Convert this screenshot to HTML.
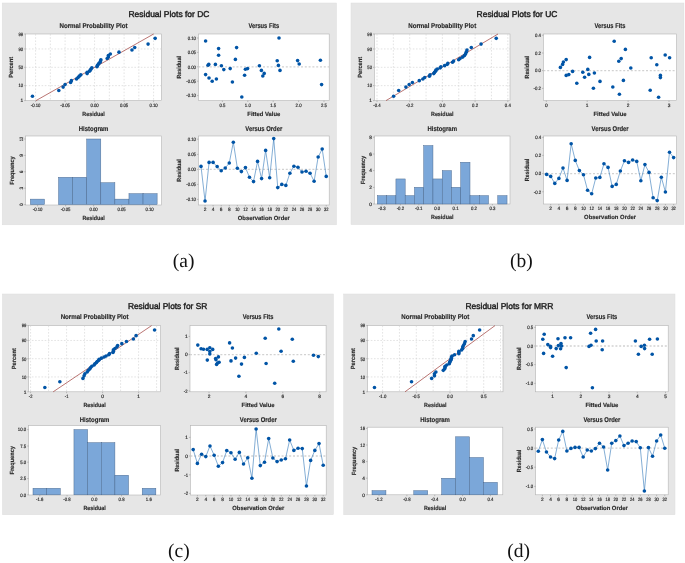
<!DOCTYPE html>
<html><head><meta charset="utf-8"><title>Residual Plots</title>
<style>html,body{margin:0;padding:0;background:#fff}svg{display:block}</style></head>
<body><svg width="685" height="563" viewBox="0 0 685 563" text-rendering="geometricPrecision">
<rect width="685" height="563" fill="#fff"/>
<rect x="2.2" y="3" width="334.3" height="221.8" fill="#e6e6e6" stroke="#dddddd" stroke-width="0.5"/>
<text x="169" y="17.1" font-family='"Liberation Sans", sans-serif' font-size="8.5" font-weight="normal" text-anchor="middle" fill="#222" stroke="#222" stroke-width="0.42" textLength="81" lengthAdjust="spacingAndGlyphs">Residual Plots for DC</text>
<rect x="25.6" y="34" width="135.8" height="66.6" fill="#fff" stroke="#b4b4b4" stroke-width="0.6"/>
<line x1="35.6" y1="34" x2="35.6" y2="100.6" stroke="#d0d0d0" stroke-width="0.6" stroke-dasharray="1.6 1.6"/>
<line x1="50.35" y1="34" x2="50.35" y2="100.6" stroke="#d0d0d0" stroke-width="0.6" stroke-dasharray="1.6 1.6"/>
<line x1="65.1" y1="34" x2="65.1" y2="100.6" stroke="#d0d0d0" stroke-width="0.6" stroke-dasharray="1.6 1.6"/>
<line x1="79.85" y1="34" x2="79.85" y2="100.6" stroke="#d0d0d0" stroke-width="0.6" stroke-dasharray="1.6 1.6"/>
<line x1="94.6" y1="34" x2="94.6" y2="100.6" stroke="#d0d0d0" stroke-width="0.6" stroke-dasharray="1.6 1.6"/>
<line x1="109.35" y1="34" x2="109.35" y2="100.6" stroke="#d0d0d0" stroke-width="0.6" stroke-dasharray="1.6 1.6"/>
<line x1="124.1" y1="34" x2="124.1" y2="100.6" stroke="#d0d0d0" stroke-width="0.6" stroke-dasharray="1.6 1.6"/>
<line x1="138.85" y1="34" x2="138.85" y2="100.6" stroke="#d0d0d0" stroke-width="0.6" stroke-dasharray="1.6 1.6"/>
<line x1="153.6" y1="34" x2="153.6" y2="100.6" stroke="#d0d0d0" stroke-width="0.6" stroke-dasharray="1.6 1.6"/>
<line x1="25.6" y1="48.96" x2="161.4" y2="48.96" stroke="#d0d0d0" stroke-width="0.6" stroke-dasharray="1.6 1.6"/>
<line x1="25.6" y1="67.3" x2="161.4" y2="67.3" stroke="#d0d0d0" stroke-width="0.6" stroke-dasharray="1.6 1.6"/>
<line x1="25.6" y1="85.64" x2="161.4" y2="85.64" stroke="#d0d0d0" stroke-width="0.6" stroke-dasharray="1.6 1.6"/>
<line x1="36" y1="100.6" x2="153.6" y2="34" stroke="#9c3a36" stroke-width="0.7"/>
<circle cx="32.45" cy="96.24" r="1.8" fill="#0054a6"/>
<circle cx="58.81" cy="90.51" r="1.8" fill="#0054a6"/>
<circle cx="63.13" cy="87.1" r="1.8" fill="#0054a6"/>
<circle cx="65.1" cy="84.54" r="1.8" fill="#0054a6"/>
<circle cx="70.61" cy="82.44" r="1.8" fill="#0054a6"/>
<circle cx="71.39" cy="80.63" r="1.8" fill="#0054a6"/>
<circle cx="76.51" cy="79" r="1.8" fill="#0054a6"/>
<circle cx="78.08" cy="77.52" r="1.8" fill="#0054a6"/>
<circle cx="79.26" cy="76.14" r="1.8" fill="#0054a6"/>
<circle cx="80.83" cy="74.83" r="1.8" fill="#0054a6"/>
<circle cx="87.13" cy="73.59" r="1.8" fill="#0054a6"/>
<circle cx="87.13" cy="72.39" r="1.8" fill="#0054a6"/>
<circle cx="89.49" cy="71.22" r="1.8" fill="#0054a6"/>
<circle cx="90.27" cy="70.09" r="1.8" fill="#0054a6"/>
<circle cx="91.06" cy="68.96" r="1.8" fill="#0054a6"/>
<circle cx="91.85" cy="67.85" r="1.8" fill="#0054a6"/>
<circle cx="96.96" cy="66.75" r="1.8" fill="#0054a6"/>
<circle cx="97.35" cy="65.64" r="1.8" fill="#0054a6"/>
<circle cx="98.14" cy="64.51" r="1.8" fill="#0054a6"/>
<circle cx="98.93" cy="63.38" r="1.8" fill="#0054a6"/>
<circle cx="100.11" cy="62.21" r="1.8" fill="#0054a6"/>
<circle cx="100.5" cy="61.01" r="1.8" fill="#0054a6"/>
<circle cx="100.89" cy="59.77" r="1.8" fill="#0054a6"/>
<circle cx="107.19" cy="58.46" r="1.8" fill="#0054a6"/>
<circle cx="108.37" cy="57.08" r="1.8" fill="#0054a6"/>
<circle cx="108.37" cy="55.6" r="1.8" fill="#0054a6"/>
<circle cx="110.33" cy="53.97" r="1.8" fill="#0054a6"/>
<circle cx="118.99" cy="52.16" r="1.8" fill="#0054a6"/>
<circle cx="131.97" cy="50.06" r="1.8" fill="#0054a6"/>
<circle cx="134.72" cy="47.5" r="1.8" fill="#0054a6"/>
<circle cx="148.09" cy="44.09" r="1.8" fill="#0054a6"/>
<circle cx="155.17" cy="38.36" r="1.8" fill="#0054a6"/>
<line x1="35.6" y1="100.6" x2="35.6" y2="102" stroke="#8a8a8a" stroke-width="0.5"/>
<text x="35.6" y="106.9" font-family='"Liberation Sans", sans-serif' font-size="4.8" font-weight="normal" text-anchor="middle" fill="#262626" stroke="#262626" stroke-width="0.16" textLength="9.79" lengthAdjust="spacingAndGlyphs">-0.10</text>
<line x1="65.1" y1="100.6" x2="65.1" y2="102" stroke="#8a8a8a" stroke-width="0.5"/>
<text x="65.1" y="106.9" font-family='"Liberation Sans", sans-serif' font-size="4.8" font-weight="normal" text-anchor="middle" fill="#262626" stroke="#262626" stroke-width="0.16" textLength="9.79" lengthAdjust="spacingAndGlyphs">-0.05</text>
<line x1="94.6" y1="100.6" x2="94.6" y2="102" stroke="#8a8a8a" stroke-width="0.5"/>
<text x="94.6" y="106.9" font-family='"Liberation Sans", sans-serif' font-size="4.8" font-weight="normal" text-anchor="middle" fill="#262626" stroke="#262626" stroke-width="0.16" textLength="8.36" lengthAdjust="spacingAndGlyphs">0.00</text>
<line x1="124.1" y1="100.6" x2="124.1" y2="102" stroke="#8a8a8a" stroke-width="0.5"/>
<text x="124.1" y="106.9" font-family='"Liberation Sans", sans-serif' font-size="4.8" font-weight="normal" text-anchor="middle" fill="#262626" stroke="#262626" stroke-width="0.16" textLength="8.36" lengthAdjust="spacingAndGlyphs">0.05</text>
<line x1="153.6" y1="100.6" x2="153.6" y2="102" stroke="#8a8a8a" stroke-width="0.5"/>
<text x="153.6" y="106.9" font-family='"Liberation Sans", sans-serif' font-size="4.8" font-weight="normal" text-anchor="middle" fill="#262626" stroke="#262626" stroke-width="0.16" textLength="8.36" lengthAdjust="spacingAndGlyphs">0.10</text>
<line x1="24.2" y1="34" x2="25.6" y2="34" stroke="#8a8a8a" stroke-width="0.5"/>
<text x="23.2" y="35.8" font-family='"Liberation Sans", sans-serif' font-size="4.8" font-weight="normal" text-anchor="end" fill="#262626" stroke="#262626" stroke-width="0.16" textLength="4.67" lengthAdjust="spacingAndGlyphs">99</text>
<line x1="24.2" y1="48.96" x2="25.6" y2="48.96" stroke="#8a8a8a" stroke-width="0.5"/>
<text x="23.2" y="50.76" font-family='"Liberation Sans", sans-serif' font-size="4.8" font-weight="normal" text-anchor="end" fill="#262626" stroke="#262626" stroke-width="0.16" textLength="4.67" lengthAdjust="spacingAndGlyphs">90</text>
<line x1="24.2" y1="67.3" x2="25.6" y2="67.3" stroke="#8a8a8a" stroke-width="0.5"/>
<text x="23.2" y="69.1" font-family='"Liberation Sans", sans-serif' font-size="4.8" font-weight="normal" text-anchor="end" fill="#262626" stroke="#262626" stroke-width="0.16" textLength="4.67" lengthAdjust="spacingAndGlyphs">50</text>
<line x1="24.2" y1="85.64" x2="25.6" y2="85.64" stroke="#8a8a8a" stroke-width="0.5"/>
<text x="23.2" y="87.44" font-family='"Liberation Sans", sans-serif' font-size="4.8" font-weight="normal" text-anchor="end" fill="#262626" stroke="#262626" stroke-width="0.16" textLength="4.67" lengthAdjust="spacingAndGlyphs">10</text>
<line x1="24.2" y1="100.6" x2="25.6" y2="100.6" stroke="#8a8a8a" stroke-width="0.5"/>
<text x="23.2" y="102.4" font-family='"Liberation Sans", sans-serif' font-size="4.8" font-weight="normal" text-anchor="end" fill="#262626" stroke="#262626" stroke-width="0.16">1</text>
<text x="93.5" y="27.6" font-family='"Liberation Sans", sans-serif' font-size="6.9" font-weight="bold" text-anchor="middle" fill="#262626" stroke="#262626" stroke-width="0.14" textLength="68" lengthAdjust="spacingAndGlyphs">Normal Probability Plot</text>
<text x="93.5" y="116" font-family='"Liberation Sans", sans-serif' font-size="6.0" font-weight="bold" text-anchor="middle" fill="#2a2a2a" stroke="#2a2a2a" stroke-width="0.14" textLength="22.4" lengthAdjust="spacingAndGlyphs">Residual</text>
<text x="13.5" y="67.3" font-family='"Liberation Sans", sans-serif' font-size="6.0" font-weight="bold" text-anchor="middle" fill="#2a2a2a" stroke="#2a2a2a" stroke-width="0.14" transform="rotate(-90 13.5 67.3)" textLength="21" lengthAdjust="spacingAndGlyphs">Percent</text>
<rect x="198.4" y="34" width="130.8" height="66.6" fill="#fff" stroke="#b4b4b4" stroke-width="0.6"/>
<line x1="198.4" y1="66.8" x2="329.2" y2="66.8" stroke="#d2d2d2" stroke-width="1.3" stroke-dasharray="2 1.8"/>
<circle cx="205.6" cy="41" r="1.8" fill="#0054a6"/>
<circle cx="205.6" cy="74.6" r="1.8" fill="#0054a6"/>
<circle cx="209" cy="78" r="1.8" fill="#0054a6"/>
<circle cx="212.2" cy="81.2" r="1.8" fill="#0054a6"/>
<circle cx="216.4" cy="79" r="1.8" fill="#0054a6"/>
<circle cx="208" cy="65.2" r="1.8" fill="#0054a6"/>
<circle cx="208.8" cy="64.4" r="1.8" fill="#0054a6"/>
<circle cx="215.4" cy="64.4" r="1.8" fill="#0054a6"/>
<circle cx="218.6" cy="48.6" r="1.8" fill="#0054a6"/>
<circle cx="218.6" cy="55.2" r="1.8" fill="#0054a6"/>
<circle cx="221.4" cy="65.8" r="1.8" fill="#0054a6"/>
<circle cx="223.8" cy="69.6" r="1.8" fill="#0054a6"/>
<circle cx="230.2" cy="68.6" r="1.8" fill="#0054a6"/>
<circle cx="232.4" cy="82" r="1.8" fill="#0054a6"/>
<circle cx="236.6" cy="47.6" r="1.8" fill="#0054a6"/>
<circle cx="235.4" cy="59.4" r="1.8" fill="#0054a6"/>
<circle cx="241.8" cy="97" r="1.8" fill="#0054a6"/>
<circle cx="244.6" cy="75.2" r="1.8" fill="#0054a6"/>
<circle cx="245.4" cy="69.2" r="1.8" fill="#0054a6"/>
<circle cx="247.6" cy="68.6" r="1.8" fill="#0054a6"/>
<circle cx="259.4" cy="65.8" r="1.8" fill="#0054a6"/>
<circle cx="261.4" cy="70.4" r="1.8" fill="#0054a6"/>
<circle cx="264.2" cy="73.4" r="1.8" fill="#0054a6"/>
<circle cx="262.8" cy="76" r="1.8" fill="#0054a6"/>
<circle cx="279" cy="38" r="1.8" fill="#0054a6"/>
<circle cx="277.2" cy="60.8" r="1.8" fill="#0054a6"/>
<circle cx="278.4" cy="65.4" r="1.8" fill="#0054a6"/>
<circle cx="280" cy="70.4" r="1.8" fill="#0054a6"/>
<circle cx="297.6" cy="60.6" r="1.8" fill="#0054a6"/>
<circle cx="299.2" cy="64" r="1.8" fill="#0054a6"/>
<circle cx="320.4" cy="60.2" r="1.8" fill="#0054a6"/>
<circle cx="321.6" cy="84.6" r="1.8" fill="#0054a6"/>
<line x1="222.4" y1="100.6" x2="222.4" y2="102" stroke="#8a8a8a" stroke-width="0.5"/>
<text x="222.4" y="106.9" font-family='"Liberation Sans", sans-serif' font-size="4.8" font-weight="normal" text-anchor="middle" fill="#262626" stroke="#262626" stroke-width="0.16" textLength="5.97" lengthAdjust="spacingAndGlyphs">0.5</text>
<line x1="247.8" y1="100.6" x2="247.8" y2="102" stroke="#8a8a8a" stroke-width="0.5"/>
<text x="247.8" y="106.9" font-family='"Liberation Sans", sans-serif' font-size="4.8" font-weight="normal" text-anchor="middle" fill="#262626" stroke="#262626" stroke-width="0.16" textLength="5.97" lengthAdjust="spacingAndGlyphs">1.0</text>
<line x1="273.2" y1="100.6" x2="273.2" y2="102" stroke="#8a8a8a" stroke-width="0.5"/>
<text x="273.2" y="106.9" font-family='"Liberation Sans", sans-serif' font-size="4.8" font-weight="normal" text-anchor="middle" fill="#262626" stroke="#262626" stroke-width="0.16" textLength="5.97" lengthAdjust="spacingAndGlyphs">1.5</text>
<line x1="298.6" y1="100.6" x2="298.6" y2="102" stroke="#8a8a8a" stroke-width="0.5"/>
<text x="298.6" y="106.9" font-family='"Liberation Sans", sans-serif' font-size="4.8" font-weight="normal" text-anchor="middle" fill="#262626" stroke="#262626" stroke-width="0.16" textLength="5.97" lengthAdjust="spacingAndGlyphs">2.0</text>
<line x1="324" y1="100.6" x2="324" y2="102" stroke="#8a8a8a" stroke-width="0.5"/>
<text x="324" y="106.9" font-family='"Liberation Sans", sans-serif' font-size="4.8" font-weight="normal" text-anchor="middle" fill="#262626" stroke="#262626" stroke-width="0.16" textLength="5.97" lengthAdjust="spacingAndGlyphs">2.5</text>
<line x1="197" y1="38" x2="198.4" y2="38" stroke="#8a8a8a" stroke-width="0.5"/>
<text x="196" y="39.8" font-family='"Liberation Sans", sans-serif' font-size="4.8" font-weight="normal" text-anchor="end" fill="#262626" stroke="#262626" stroke-width="0.16" textLength="8.36" lengthAdjust="spacingAndGlyphs">0.10</text>
<line x1="197" y1="52.4" x2="198.4" y2="52.4" stroke="#8a8a8a" stroke-width="0.5"/>
<text x="196" y="54.2" font-family='"Liberation Sans", sans-serif' font-size="4.8" font-weight="normal" text-anchor="end" fill="#262626" stroke="#262626" stroke-width="0.16" textLength="8.36" lengthAdjust="spacingAndGlyphs">0.05</text>
<line x1="197" y1="66.8" x2="198.4" y2="66.8" stroke="#8a8a8a" stroke-width="0.5"/>
<text x="196" y="68.6" font-family='"Liberation Sans", sans-serif' font-size="4.8" font-weight="normal" text-anchor="end" fill="#262626" stroke="#262626" stroke-width="0.16" textLength="8.36" lengthAdjust="spacingAndGlyphs">0.00</text>
<line x1="197" y1="81.2" x2="198.4" y2="81.2" stroke="#8a8a8a" stroke-width="0.5"/>
<text x="196" y="83" font-family='"Liberation Sans", sans-serif' font-size="4.8" font-weight="normal" text-anchor="end" fill="#262626" stroke="#262626" stroke-width="0.16" textLength="9.79" lengthAdjust="spacingAndGlyphs">-0.05</text>
<line x1="197" y1="95.6" x2="198.4" y2="95.6" stroke="#8a8a8a" stroke-width="0.5"/>
<text x="196" y="97.4" font-family='"Liberation Sans", sans-serif' font-size="4.8" font-weight="normal" text-anchor="end" fill="#262626" stroke="#262626" stroke-width="0.16" textLength="9.79" lengthAdjust="spacingAndGlyphs">-0.10</text>
<text x="263.8" y="27.6" font-family='"Liberation Sans", sans-serif' font-size="6.9" font-weight="bold" text-anchor="middle" fill="#262626" stroke="#262626" stroke-width="0.14" textLength="30.8" lengthAdjust="spacingAndGlyphs">Versus Fits</text>
<text x="263.8" y="116" font-family='"Liberation Sans", sans-serif' font-size="6.0" font-weight="bold" text-anchor="middle" fill="#2a2a2a" stroke="#2a2a2a" stroke-width="0.14" textLength="33" lengthAdjust="spacingAndGlyphs">Fitted Value</text>
<text x="180.9" y="67.3" font-family='"Liberation Sans", sans-serif' font-size="6.0" font-weight="bold" text-anchor="middle" fill="#2a2a2a" stroke="#2a2a2a" stroke-width="0.14" transform="rotate(-90 180.9 67.3)" textLength="22.4" lengthAdjust="spacingAndGlyphs">Residual</text>
<rect x="25.6" y="136" width="136" height="69" fill="#fff" stroke="#b4b4b4" stroke-width="0.6"/>
<rect x="30.4" y="199.13" width="14.08" height="5.47" fill="#7ba7d9" stroke="#46648a" stroke-width="0.45"/>
<rect x="58.56" y="177.27" width="14.08" height="27.33" fill="#7ba7d9" stroke="#46648a" stroke-width="0.45"/>
<rect x="72.64" y="177.27" width="14.08" height="27.33" fill="#7ba7d9" stroke="#46648a" stroke-width="0.45"/>
<rect x="86.72" y="139" width="14.08" height="65.6" fill="#7ba7d9" stroke="#46648a" stroke-width="0.45"/>
<rect x="100.8" y="182.73" width="14.08" height="21.87" fill="#7ba7d9" stroke="#46648a" stroke-width="0.45"/>
<rect x="114.88" y="199.13" width="14.08" height="5.47" fill="#7ba7d9" stroke="#46648a" stroke-width="0.45"/>
<rect x="128.96" y="193.67" width="14.08" height="10.93" fill="#7ba7d9" stroke="#46648a" stroke-width="0.45"/>
<rect x="143.04" y="193.67" width="14.08" height="10.93" fill="#7ba7d9" stroke="#46648a" stroke-width="0.45"/>
<line x1="37.6" y1="205" x2="37.6" y2="206.4" stroke="#8a8a8a" stroke-width="0.5"/>
<text x="37.6" y="211.3" font-family='"Liberation Sans", sans-serif' font-size="4.8" font-weight="normal" text-anchor="middle" fill="#262626" stroke="#262626" stroke-width="0.16" textLength="9.79" lengthAdjust="spacingAndGlyphs">-0.10</text>
<line x1="65.6" y1="205" x2="65.6" y2="206.4" stroke="#8a8a8a" stroke-width="0.5"/>
<text x="65.6" y="211.3" font-family='"Liberation Sans", sans-serif' font-size="4.8" font-weight="normal" text-anchor="middle" fill="#262626" stroke="#262626" stroke-width="0.16" textLength="9.79" lengthAdjust="spacingAndGlyphs">-0.05</text>
<line x1="93.6" y1="205" x2="93.6" y2="206.4" stroke="#8a8a8a" stroke-width="0.5"/>
<text x="93.6" y="211.3" font-family='"Liberation Sans", sans-serif' font-size="4.8" font-weight="normal" text-anchor="middle" fill="#262626" stroke="#262626" stroke-width="0.16" textLength="8.36" lengthAdjust="spacingAndGlyphs">0.00</text>
<line x1="121.6" y1="205" x2="121.6" y2="206.4" stroke="#8a8a8a" stroke-width="0.5"/>
<text x="121.6" y="211.3" font-family='"Liberation Sans", sans-serif' font-size="4.8" font-weight="normal" text-anchor="middle" fill="#262626" stroke="#262626" stroke-width="0.16" textLength="8.36" lengthAdjust="spacingAndGlyphs">0.05</text>
<line x1="149.6" y1="205" x2="149.6" y2="206.4" stroke="#8a8a8a" stroke-width="0.5"/>
<text x="149.6" y="211.3" font-family='"Liberation Sans", sans-serif' font-size="4.8" font-weight="normal" text-anchor="middle" fill="#262626" stroke="#262626" stroke-width="0.16" textLength="8.36" lengthAdjust="spacingAndGlyphs">0.10</text>
<line x1="24.2" y1="139" x2="25.6" y2="139" stroke="#8a8a8a" stroke-width="0.5"/>
<text x="23.1" y="139" font-family='"Liberation Sans", sans-serif' font-size="4.8" font-weight="normal" text-anchor="middle" fill="#262626" stroke="#262626" stroke-width="0.16" transform="rotate(-90 23.1 139)" textLength="4.46" lengthAdjust="spacingAndGlyphs">12</text>
<line x1="24.2" y1="155.4" x2="25.6" y2="155.4" stroke="#8a8a8a" stroke-width="0.5"/>
<text x="23.1" y="155.4" font-family='"Liberation Sans", sans-serif' font-size="4.8" font-weight="normal" text-anchor="middle" fill="#262626" stroke="#262626" stroke-width="0.16" transform="rotate(-90 23.1 155.4)">9</text>
<line x1="24.2" y1="171.8" x2="25.6" y2="171.8" stroke="#8a8a8a" stroke-width="0.5"/>
<text x="23.1" y="171.8" font-family='"Liberation Sans", sans-serif' font-size="4.8" font-weight="normal" text-anchor="middle" fill="#262626" stroke="#262626" stroke-width="0.16" transform="rotate(-90 23.1 171.8)">6</text>
<line x1="24.2" y1="188.2" x2="25.6" y2="188.2" stroke="#8a8a8a" stroke-width="0.5"/>
<text x="23.1" y="188.2" font-family='"Liberation Sans", sans-serif' font-size="4.8" font-weight="normal" text-anchor="middle" fill="#262626" stroke="#262626" stroke-width="0.16" transform="rotate(-90 23.1 188.2)">3</text>
<line x1="24.2" y1="204.6" x2="25.6" y2="204.6" stroke="#8a8a8a" stroke-width="0.5"/>
<text x="23.1" y="204.6" font-family='"Liberation Sans", sans-serif' font-size="4.8" font-weight="normal" text-anchor="middle" fill="#262626" stroke="#262626" stroke-width="0.16" transform="rotate(-90 23.1 204.6)">0</text>
<text x="93.6" y="131.1" font-family='"Liberation Sans", sans-serif' font-size="6.9" font-weight="bold" text-anchor="middle" fill="#262626" stroke="#262626" stroke-width="0.14" textLength="29.6" lengthAdjust="spacingAndGlyphs">Histogram</text>
<text x="93.6" y="220.4" font-family='"Liberation Sans", sans-serif' font-size="6.0" font-weight="bold" text-anchor="middle" fill="#2a2a2a" stroke="#2a2a2a" stroke-width="0.14" textLength="22.4" lengthAdjust="spacingAndGlyphs">Residual</text>
<text x="14.3" y="170.5" font-family='"Liberation Sans", sans-serif' font-size="6.0" font-weight="bold" text-anchor="middle" fill="#2a2a2a" stroke="#2a2a2a" stroke-width="0.14" transform="rotate(-90 14.3 170.5)" textLength="28.5" lengthAdjust="spacingAndGlyphs">Frequency</text>
<rect x="198.4" y="136" width="130.8" height="69" fill="#fff" stroke="#b4b4b4" stroke-width="0.6"/>
<line x1="198.4" y1="169.4" x2="329.2" y2="169.4" stroke="#d2d2d2" stroke-width="1.3" stroke-dasharray="2 1.8"/>
<polyline fill="none" stroke="#2a72b6" stroke-width="0.58" points="201,166.4 205.04,201 209.08,162.4 213.12,162.4 217.16,166.6 221.2,170.8 225.24,168 229.28,163 233.32,142.2 237.36,168.2 241.4,171.6 245.44,167.6 249.48,177.2 253.52,181.6 257.56,161.4 261.6,178.6 265.64,150.4 269.68,177.8 273.72,138.6 277.76,187.6 281.8,184.4 285.84,185.4 289.88,173.2 293.92,166.2 297.96,167.2 302,172 306.04,171.2 310.08,173.2 314.12,181.2 318.16,157 322.2,149 326.24,176.4"/>
<circle cx="201" cy="166.4" r="1.8" fill="#0054a6"/>
<circle cx="205.04" cy="201" r="1.8" fill="#0054a6"/>
<circle cx="209.08" cy="162.4" r="1.8" fill="#0054a6"/>
<circle cx="213.12" cy="162.4" r="1.8" fill="#0054a6"/>
<circle cx="217.16" cy="166.6" r="1.8" fill="#0054a6"/>
<circle cx="221.2" cy="170.8" r="1.8" fill="#0054a6"/>
<circle cx="225.24" cy="168" r="1.8" fill="#0054a6"/>
<circle cx="229.28" cy="163" r="1.8" fill="#0054a6"/>
<circle cx="233.32" cy="142.2" r="1.8" fill="#0054a6"/>
<circle cx="237.36" cy="168.2" r="1.8" fill="#0054a6"/>
<circle cx="241.4" cy="171.6" r="1.8" fill="#0054a6"/>
<circle cx="245.44" cy="167.6" r="1.8" fill="#0054a6"/>
<circle cx="249.48" cy="177.2" r="1.8" fill="#0054a6"/>
<circle cx="253.52" cy="181.6" r="1.8" fill="#0054a6"/>
<circle cx="257.56" cy="161.4" r="1.8" fill="#0054a6"/>
<circle cx="261.6" cy="178.6" r="1.8" fill="#0054a6"/>
<circle cx="265.64" cy="150.4" r="1.8" fill="#0054a6"/>
<circle cx="269.68" cy="177.8" r="1.8" fill="#0054a6"/>
<circle cx="273.72" cy="138.6" r="1.8" fill="#0054a6"/>
<circle cx="277.76" cy="187.6" r="1.8" fill="#0054a6"/>
<circle cx="281.8" cy="184.4" r="1.8" fill="#0054a6"/>
<circle cx="285.84" cy="185.4" r="1.8" fill="#0054a6"/>
<circle cx="289.88" cy="173.2" r="1.8" fill="#0054a6"/>
<circle cx="293.92" cy="166.2" r="1.8" fill="#0054a6"/>
<circle cx="297.96" cy="167.2" r="1.8" fill="#0054a6"/>
<circle cx="302" cy="172" r="1.8" fill="#0054a6"/>
<circle cx="306.04" cy="171.2" r="1.8" fill="#0054a6"/>
<circle cx="310.08" cy="173.2" r="1.8" fill="#0054a6"/>
<circle cx="314.12" cy="181.2" r="1.8" fill="#0054a6"/>
<circle cx="318.16" cy="157" r="1.8" fill="#0054a6"/>
<circle cx="322.2" cy="149" r="1.8" fill="#0054a6"/>
<circle cx="326.24" cy="176.4" r="1.8" fill="#0054a6"/>
<line x1="205.04" y1="205" x2="205.04" y2="206.4" stroke="#8a8a8a" stroke-width="0.5"/>
<text x="205.04" y="211.3" font-family='"Liberation Sans", sans-serif' font-size="4.8" font-weight="normal" text-anchor="middle" fill="#262626" stroke="#262626" stroke-width="0.16">2</text>
<line x1="213.12" y1="205" x2="213.12" y2="206.4" stroke="#8a8a8a" stroke-width="0.5"/>
<text x="213.12" y="211.3" font-family='"Liberation Sans", sans-serif' font-size="4.8" font-weight="normal" text-anchor="middle" fill="#262626" stroke="#262626" stroke-width="0.16">4</text>
<line x1="221.2" y1="205" x2="221.2" y2="206.4" stroke="#8a8a8a" stroke-width="0.5"/>
<text x="221.2" y="211.3" font-family='"Liberation Sans", sans-serif' font-size="4.8" font-weight="normal" text-anchor="middle" fill="#262626" stroke="#262626" stroke-width="0.16">6</text>
<line x1="229.28" y1="205" x2="229.28" y2="206.4" stroke="#8a8a8a" stroke-width="0.5"/>
<text x="229.28" y="211.3" font-family='"Liberation Sans", sans-serif' font-size="4.8" font-weight="normal" text-anchor="middle" fill="#262626" stroke="#262626" stroke-width="0.16">8</text>
<line x1="237.36" y1="205" x2="237.36" y2="206.4" stroke="#8a8a8a" stroke-width="0.5"/>
<text x="237.36" y="211.3" font-family='"Liberation Sans", sans-serif' font-size="4.8" font-weight="normal" text-anchor="middle" fill="#262626" stroke="#262626" stroke-width="0.16" textLength="4.46" lengthAdjust="spacingAndGlyphs">10</text>
<line x1="245.44" y1="205" x2="245.44" y2="206.4" stroke="#8a8a8a" stroke-width="0.5"/>
<text x="245.44" y="211.3" font-family='"Liberation Sans", sans-serif' font-size="4.8" font-weight="normal" text-anchor="middle" fill="#262626" stroke="#262626" stroke-width="0.16" textLength="4.46" lengthAdjust="spacingAndGlyphs">12</text>
<line x1="253.52" y1="205" x2="253.52" y2="206.4" stroke="#8a8a8a" stroke-width="0.5"/>
<text x="253.52" y="211.3" font-family='"Liberation Sans", sans-serif' font-size="4.8" font-weight="normal" text-anchor="middle" fill="#262626" stroke="#262626" stroke-width="0.16" textLength="4.46" lengthAdjust="spacingAndGlyphs">14</text>
<line x1="261.6" y1="205" x2="261.6" y2="206.4" stroke="#8a8a8a" stroke-width="0.5"/>
<text x="261.6" y="211.3" font-family='"Liberation Sans", sans-serif' font-size="4.8" font-weight="normal" text-anchor="middle" fill="#262626" stroke="#262626" stroke-width="0.16" textLength="4.46" lengthAdjust="spacingAndGlyphs">16</text>
<line x1="269.68" y1="205" x2="269.68" y2="206.4" stroke="#8a8a8a" stroke-width="0.5"/>
<text x="269.68" y="211.3" font-family='"Liberation Sans", sans-serif' font-size="4.8" font-weight="normal" text-anchor="middle" fill="#262626" stroke="#262626" stroke-width="0.16" textLength="4.46" lengthAdjust="spacingAndGlyphs">18</text>
<line x1="277.76" y1="205" x2="277.76" y2="206.4" stroke="#8a8a8a" stroke-width="0.5"/>
<text x="277.76" y="211.3" font-family='"Liberation Sans", sans-serif' font-size="4.8" font-weight="normal" text-anchor="middle" fill="#262626" stroke="#262626" stroke-width="0.16" textLength="4.46" lengthAdjust="spacingAndGlyphs">20</text>
<line x1="285.84" y1="205" x2="285.84" y2="206.4" stroke="#8a8a8a" stroke-width="0.5"/>
<text x="285.84" y="211.3" font-family='"Liberation Sans", sans-serif' font-size="4.8" font-weight="normal" text-anchor="middle" fill="#262626" stroke="#262626" stroke-width="0.16" textLength="4.46" lengthAdjust="spacingAndGlyphs">22</text>
<line x1="293.92" y1="205" x2="293.92" y2="206.4" stroke="#8a8a8a" stroke-width="0.5"/>
<text x="293.92" y="211.3" font-family='"Liberation Sans", sans-serif' font-size="4.8" font-weight="normal" text-anchor="middle" fill="#262626" stroke="#262626" stroke-width="0.16" textLength="4.46" lengthAdjust="spacingAndGlyphs">24</text>
<line x1="302" y1="205" x2="302" y2="206.4" stroke="#8a8a8a" stroke-width="0.5"/>
<text x="302" y="211.3" font-family='"Liberation Sans", sans-serif' font-size="4.8" font-weight="normal" text-anchor="middle" fill="#262626" stroke="#262626" stroke-width="0.16" textLength="4.46" lengthAdjust="spacingAndGlyphs">26</text>
<line x1="310.08" y1="205" x2="310.08" y2="206.4" stroke="#8a8a8a" stroke-width="0.5"/>
<text x="310.08" y="211.3" font-family='"Liberation Sans", sans-serif' font-size="4.8" font-weight="normal" text-anchor="middle" fill="#262626" stroke="#262626" stroke-width="0.16" textLength="4.46" lengthAdjust="spacingAndGlyphs">28</text>
<line x1="318.16" y1="205" x2="318.16" y2="206.4" stroke="#8a8a8a" stroke-width="0.5"/>
<text x="318.16" y="211.3" font-family='"Liberation Sans", sans-serif' font-size="4.8" font-weight="normal" text-anchor="middle" fill="#262626" stroke="#262626" stroke-width="0.16" textLength="4.46" lengthAdjust="spacingAndGlyphs">30</text>
<line x1="326.24" y1="205" x2="326.24" y2="206.4" stroke="#8a8a8a" stroke-width="0.5"/>
<text x="326.24" y="211.3" font-family='"Liberation Sans", sans-serif' font-size="4.8" font-weight="normal" text-anchor="middle" fill="#262626" stroke="#262626" stroke-width="0.16" textLength="4.46" lengthAdjust="spacingAndGlyphs">32</text>
<line x1="197" y1="139.2" x2="198.4" y2="139.2" stroke="#8a8a8a" stroke-width="0.5"/>
<text x="196" y="141" font-family='"Liberation Sans", sans-serif' font-size="4.8" font-weight="normal" text-anchor="end" fill="#262626" stroke="#262626" stroke-width="0.16" textLength="8.36" lengthAdjust="spacingAndGlyphs">0.10</text>
<line x1="197" y1="154.4" x2="198.4" y2="154.4" stroke="#8a8a8a" stroke-width="0.5"/>
<text x="196" y="156.2" font-family='"Liberation Sans", sans-serif' font-size="4.8" font-weight="normal" text-anchor="end" fill="#262626" stroke="#262626" stroke-width="0.16" textLength="8.36" lengthAdjust="spacingAndGlyphs">0.05</text>
<line x1="197" y1="169.4" x2="198.4" y2="169.4" stroke="#8a8a8a" stroke-width="0.5"/>
<text x="196" y="171.2" font-family='"Liberation Sans", sans-serif' font-size="4.8" font-weight="normal" text-anchor="end" fill="#262626" stroke="#262626" stroke-width="0.16" textLength="8.36" lengthAdjust="spacingAndGlyphs">0.00</text>
<line x1="197" y1="184.4" x2="198.4" y2="184.4" stroke="#8a8a8a" stroke-width="0.5"/>
<text x="196" y="186.2" font-family='"Liberation Sans", sans-serif' font-size="4.8" font-weight="normal" text-anchor="end" fill="#262626" stroke="#262626" stroke-width="0.16" textLength="9.79" lengthAdjust="spacingAndGlyphs">-0.05</text>
<line x1="197" y1="199.4" x2="198.4" y2="199.4" stroke="#8a8a8a" stroke-width="0.5"/>
<text x="196" y="201.2" font-family='"Liberation Sans", sans-serif' font-size="4.8" font-weight="normal" text-anchor="end" fill="#262626" stroke="#262626" stroke-width="0.16" textLength="9.79" lengthAdjust="spacingAndGlyphs">-0.10</text>
<text x="263.8" y="131.1" font-family='"Liberation Sans", sans-serif' font-size="6.9" font-weight="bold" text-anchor="middle" fill="#262626" stroke="#262626" stroke-width="0.14" textLength="37" lengthAdjust="spacingAndGlyphs">Versus Order</text>
<text x="263.8" y="220.4" font-family='"Liberation Sans", sans-serif' font-size="6.0" font-weight="bold" text-anchor="middle" fill="#2a2a2a" stroke="#2a2a2a" stroke-width="0.14" textLength="52" lengthAdjust="spacingAndGlyphs">Observation Order</text>
<text x="180.9" y="170.5" font-family='"Liberation Sans", sans-serif' font-size="6.0" font-weight="bold" text-anchor="middle" fill="#2a2a2a" stroke="#2a2a2a" stroke-width="0.14" transform="rotate(-90 180.9 170.5)" textLength="22.4" lengthAdjust="spacingAndGlyphs">Residual</text>
<rect x="351" y="3" width="332.9" height="221.6" fill="#e6e6e6" stroke="#dddddd" stroke-width="0.5"/>
<text x="517" y="17.1" font-family='"Liberation Sans", sans-serif' font-size="8.5" font-weight="normal" text-anchor="middle" fill="#222" stroke="#222" stroke-width="0.42" textLength="80.8" lengthAdjust="spacingAndGlyphs">Residual Plots for UC</text>
<rect x="374.4" y="34" width="135.6" height="66.6" fill="#fff" stroke="#b4b4b4" stroke-width="0.6"/>
<line x1="377" y1="34" x2="377" y2="100.6" stroke="#d0d0d0" stroke-width="0.6" stroke-dasharray="1.6 1.6"/>
<line x1="393.35" y1="34" x2="393.35" y2="100.6" stroke="#d0d0d0" stroke-width="0.6" stroke-dasharray="1.6 1.6"/>
<line x1="409.7" y1="34" x2="409.7" y2="100.6" stroke="#d0d0d0" stroke-width="0.6" stroke-dasharray="1.6 1.6"/>
<line x1="426.05" y1="34" x2="426.05" y2="100.6" stroke="#d0d0d0" stroke-width="0.6" stroke-dasharray="1.6 1.6"/>
<line x1="442.4" y1="34" x2="442.4" y2="100.6" stroke="#d0d0d0" stroke-width="0.6" stroke-dasharray="1.6 1.6"/>
<line x1="458.75" y1="34" x2="458.75" y2="100.6" stroke="#d0d0d0" stroke-width="0.6" stroke-dasharray="1.6 1.6"/>
<line x1="475.1" y1="34" x2="475.1" y2="100.6" stroke="#d0d0d0" stroke-width="0.6" stroke-dasharray="1.6 1.6"/>
<line x1="491.45" y1="34" x2="491.45" y2="100.6" stroke="#d0d0d0" stroke-width="0.6" stroke-dasharray="1.6 1.6"/>
<line x1="507.8" y1="34" x2="507.8" y2="100.6" stroke="#d0d0d0" stroke-width="0.6" stroke-dasharray="1.6 1.6"/>
<line x1="374.4" y1="48.96" x2="510" y2="48.96" stroke="#d0d0d0" stroke-width="0.6" stroke-dasharray="1.6 1.6"/>
<line x1="374.4" y1="67.3" x2="510" y2="67.3" stroke="#d0d0d0" stroke-width="0.6" stroke-dasharray="1.6 1.6"/>
<line x1="374.4" y1="85.64" x2="510" y2="85.64" stroke="#d0d0d0" stroke-width="0.6" stroke-dasharray="1.6 1.6"/>
<line x1="386" y1="100.6" x2="498" y2="34" stroke="#9c3a36" stroke-width="0.7"/>
<circle cx="393.62" cy="96.24" r="1.8" fill="#0054a6"/>
<circle cx="398.68" cy="90.51" r="1.8" fill="#0054a6"/>
<circle cx="405.91" cy="87.1" r="1.8" fill="#0054a6"/>
<circle cx="409.16" cy="84.54" r="1.8" fill="#0054a6"/>
<circle cx="412.41" cy="82.44" r="1.8" fill="#0054a6"/>
<circle cx="419.28" cy="80.63" r="1.8" fill="#0054a6"/>
<circle cx="422.89" cy="79" r="1.8" fill="#0054a6"/>
<circle cx="424.7" cy="77.52" r="1.8" fill="#0054a6"/>
<circle cx="429.39" cy="76.14" r="1.8" fill="#0054a6"/>
<circle cx="430.11" cy="74.83" r="1.8" fill="#0054a6"/>
<circle cx="433.73" cy="73.59" r="1.8" fill="#0054a6"/>
<circle cx="434.45" cy="72.39" r="1.8" fill="#0054a6"/>
<circle cx="435.53" cy="71.22" r="1.8" fill="#0054a6"/>
<circle cx="435.9" cy="70.09" r="1.8" fill="#0054a6"/>
<circle cx="437.34" cy="68.96" r="1.8" fill="#0054a6"/>
<circle cx="440.23" cy="67.85" r="1.8" fill="#0054a6"/>
<circle cx="440.95" cy="66.75" r="1.8" fill="#0054a6"/>
<circle cx="444.57" cy="65.64" r="1.8" fill="#0054a6"/>
<circle cx="447.1" cy="64.51" r="1.8" fill="#0054a6"/>
<circle cx="447.82" cy="63.38" r="1.8" fill="#0054a6"/>
<circle cx="452.52" cy="62.21" r="1.8" fill="#0054a6"/>
<circle cx="453.6" cy="61.01" r="1.8" fill="#0054a6"/>
<circle cx="458.66" cy="59.77" r="1.8" fill="#0054a6"/>
<circle cx="460.1" cy="58.46" r="1.8" fill="#0054a6"/>
<circle cx="462.63" cy="57.08" r="1.8" fill="#0054a6"/>
<circle cx="464.44" cy="55.6" r="1.8" fill="#0054a6"/>
<circle cx="465.52" cy="53.97" r="1.8" fill="#0054a6"/>
<circle cx="466.25" cy="52.16" r="1.8" fill="#0054a6"/>
<circle cx="466.97" cy="50.06" r="1.8" fill="#0054a6"/>
<circle cx="471.31" cy="47.5" r="1.8" fill="#0054a6"/>
<circle cx="481.06" cy="44.09" r="1.8" fill="#0054a6"/>
<circle cx="496.24" cy="38.36" r="1.8" fill="#0054a6"/>
<line x1="377" y1="100.6" x2="377" y2="102" stroke="#8a8a8a" stroke-width="0.5"/>
<text x="377" y="106.9" font-family='"Liberation Sans", sans-serif' font-size="4.8" font-weight="normal" text-anchor="middle" fill="#262626" stroke="#262626" stroke-width="0.16" textLength="7.4" lengthAdjust="spacingAndGlyphs">-0.4</text>
<line x1="409.7" y1="100.6" x2="409.7" y2="102" stroke="#8a8a8a" stroke-width="0.5"/>
<text x="409.7" y="106.9" font-family='"Liberation Sans", sans-serif' font-size="4.8" font-weight="normal" text-anchor="middle" fill="#262626" stroke="#262626" stroke-width="0.16" textLength="7.4" lengthAdjust="spacingAndGlyphs">-0.2</text>
<line x1="442.4" y1="100.6" x2="442.4" y2="102" stroke="#8a8a8a" stroke-width="0.5"/>
<text x="442.4" y="106.9" font-family='"Liberation Sans", sans-serif' font-size="4.8" font-weight="normal" text-anchor="middle" fill="#262626" stroke="#262626" stroke-width="0.16" textLength="5.97" lengthAdjust="spacingAndGlyphs">0.0</text>
<line x1="475.1" y1="100.6" x2="475.1" y2="102" stroke="#8a8a8a" stroke-width="0.5"/>
<text x="475.1" y="106.9" font-family='"Liberation Sans", sans-serif' font-size="4.8" font-weight="normal" text-anchor="middle" fill="#262626" stroke="#262626" stroke-width="0.16" textLength="5.97" lengthAdjust="spacingAndGlyphs">0.2</text>
<line x1="507.8" y1="100.6" x2="507.8" y2="102" stroke="#8a8a8a" stroke-width="0.5"/>
<text x="507.8" y="106.9" font-family='"Liberation Sans", sans-serif' font-size="4.8" font-weight="normal" text-anchor="middle" fill="#262626" stroke="#262626" stroke-width="0.16" textLength="5.97" lengthAdjust="spacingAndGlyphs">0.4</text>
<line x1="373" y1="34" x2="374.4" y2="34" stroke="#8a8a8a" stroke-width="0.5"/>
<text x="372" y="35.8" font-family='"Liberation Sans", sans-serif' font-size="4.8" font-weight="normal" text-anchor="end" fill="#262626" stroke="#262626" stroke-width="0.16" textLength="4.67" lengthAdjust="spacingAndGlyphs">99</text>
<line x1="373" y1="48.96" x2="374.4" y2="48.96" stroke="#8a8a8a" stroke-width="0.5"/>
<text x="372" y="50.76" font-family='"Liberation Sans", sans-serif' font-size="4.8" font-weight="normal" text-anchor="end" fill="#262626" stroke="#262626" stroke-width="0.16" textLength="4.67" lengthAdjust="spacingAndGlyphs">90</text>
<line x1="373" y1="67.3" x2="374.4" y2="67.3" stroke="#8a8a8a" stroke-width="0.5"/>
<text x="372" y="69.1" font-family='"Liberation Sans", sans-serif' font-size="4.8" font-weight="normal" text-anchor="end" fill="#262626" stroke="#262626" stroke-width="0.16" textLength="4.67" lengthAdjust="spacingAndGlyphs">50</text>
<line x1="373" y1="85.64" x2="374.4" y2="85.64" stroke="#8a8a8a" stroke-width="0.5"/>
<text x="372" y="87.44" font-family='"Liberation Sans", sans-serif' font-size="4.8" font-weight="normal" text-anchor="end" fill="#262626" stroke="#262626" stroke-width="0.16" textLength="4.67" lengthAdjust="spacingAndGlyphs">10</text>
<line x1="373" y1="100.6" x2="374.4" y2="100.6" stroke="#8a8a8a" stroke-width="0.5"/>
<text x="372" y="102.4" font-family='"Liberation Sans", sans-serif' font-size="4.8" font-weight="normal" text-anchor="end" fill="#262626" stroke="#262626" stroke-width="0.16">1</text>
<text x="442.2" y="27.6" font-family='"Liberation Sans", sans-serif' font-size="6.9" font-weight="bold" text-anchor="middle" fill="#262626" stroke="#262626" stroke-width="0.14" textLength="68" lengthAdjust="spacingAndGlyphs">Normal Probability Plot</text>
<text x="442.2" y="116" font-family='"Liberation Sans", sans-serif' font-size="6.0" font-weight="bold" text-anchor="middle" fill="#2a2a2a" stroke="#2a2a2a" stroke-width="0.14" textLength="22.4" lengthAdjust="spacingAndGlyphs">Residual</text>
<text x="362.5" y="67.3" font-family='"Liberation Sans", sans-serif' font-size="6.0" font-weight="bold" text-anchor="middle" fill="#2a2a2a" stroke="#2a2a2a" stroke-width="0.14" transform="rotate(-90 362.5 67.3)" textLength="21" lengthAdjust="spacingAndGlyphs">Percent</text>
<rect x="543.4" y="34" width="133.2" height="66.6" fill="#fff" stroke="#b4b4b4" stroke-width="0.6"/>
<line x1="543.4" y1="70.6" x2="676.6" y2="70.6" stroke="#d2d2d2" stroke-width="1.3" stroke-dasharray="2 1.8"/>
<circle cx="560.4" cy="67.4" r="1.8" fill="#0054a6"/>
<circle cx="562.6" cy="64.4" r="1.8" fill="#0054a6"/>
<circle cx="563.4" cy="62" r="1.8" fill="#0054a6"/>
<circle cx="566.2" cy="59.6" r="1.8" fill="#0054a6"/>
<circle cx="566.2" cy="75.4" r="1.8" fill="#0054a6"/>
<circle cx="568.8" cy="74.6" r="1.8" fill="#0054a6"/>
<circle cx="572.6" cy="71.4" r="1.8" fill="#0054a6"/>
<circle cx="576.8" cy="83.2" r="1.8" fill="#0054a6"/>
<circle cx="582.8" cy="72.2" r="1.8" fill="#0054a6"/>
<circle cx="584.6" cy="77.2" r="1.8" fill="#0054a6"/>
<circle cx="587.8" cy="69.4" r="1.8" fill="#0054a6"/>
<circle cx="588.8" cy="74.4" r="1.8" fill="#0054a6"/>
<circle cx="589.6" cy="57.4" r="1.8" fill="#0054a6"/>
<circle cx="593.4" cy="88.2" r="1.8" fill="#0054a6"/>
<circle cx="594.4" cy="73" r="1.8" fill="#0054a6"/>
<circle cx="600" cy="81.4" r="1.8" fill="#0054a6"/>
<circle cx="612.8" cy="87" r="1.8" fill="#0054a6"/>
<circle cx="614.2" cy="41.2" r="1.8" fill="#0054a6"/>
<circle cx="618.8" cy="61.2" r="1.8" fill="#0054a6"/>
<circle cx="621.2" cy="58.6" r="1.8" fill="#0054a6"/>
<circle cx="619.4" cy="94.2" r="1.8" fill="#0054a6"/>
<circle cx="623.4" cy="80.4" r="1.8" fill="#0054a6"/>
<circle cx="625.4" cy="49.4" r="1.8" fill="#0054a6"/>
<circle cx="630.8" cy="68" r="1.8" fill="#0054a6"/>
<circle cx="650.2" cy="90.2" r="1.8" fill="#0054a6"/>
<circle cx="651.2" cy="57.8" r="1.8" fill="#0054a6"/>
<circle cx="656.8" cy="64.8" r="1.8" fill="#0054a6"/>
<circle cx="658.6" cy="97.2" r="1.8" fill="#0054a6"/>
<circle cx="660.4" cy="75.4" r="1.8" fill="#0054a6"/>
<circle cx="660.4" cy="77.6" r="1.8" fill="#0054a6"/>
<circle cx="665.2" cy="55" r="1.8" fill="#0054a6"/>
<circle cx="669.6" cy="57.8" r="1.8" fill="#0054a6"/>
<line x1="546.3" y1="100.6" x2="546.3" y2="102" stroke="#8a8a8a" stroke-width="0.5"/>
<text x="546.3" y="106.9" font-family='"Liberation Sans", sans-serif' font-size="4.8" font-weight="normal" text-anchor="middle" fill="#262626" stroke="#262626" stroke-width="0.16">0</text>
<line x1="587.2" y1="100.6" x2="587.2" y2="102" stroke="#8a8a8a" stroke-width="0.5"/>
<text x="587.2" y="106.9" font-family='"Liberation Sans", sans-serif' font-size="4.8" font-weight="normal" text-anchor="middle" fill="#262626" stroke="#262626" stroke-width="0.16">1</text>
<line x1="628.1" y1="100.6" x2="628.1" y2="102" stroke="#8a8a8a" stroke-width="0.5"/>
<text x="628.1" y="106.9" font-family='"Liberation Sans", sans-serif' font-size="4.8" font-weight="normal" text-anchor="middle" fill="#262626" stroke="#262626" stroke-width="0.16">2</text>
<line x1="669" y1="100.6" x2="669" y2="102" stroke="#8a8a8a" stroke-width="0.5"/>
<text x="669" y="106.9" font-family='"Liberation Sans", sans-serif' font-size="4.8" font-weight="normal" text-anchor="middle" fill="#262626" stroke="#262626" stroke-width="0.16">3</text>
<line x1="542" y1="35.2" x2="543.4" y2="35.2" stroke="#8a8a8a" stroke-width="0.5"/>
<text x="541" y="37" font-family='"Liberation Sans", sans-serif' font-size="4.8" font-weight="normal" text-anchor="end" fill="#262626" stroke="#262626" stroke-width="0.16" textLength="5.97" lengthAdjust="spacingAndGlyphs">0.4</text>
<line x1="542" y1="53" x2="543.4" y2="53" stroke="#8a8a8a" stroke-width="0.5"/>
<text x="541" y="54.8" font-family='"Liberation Sans", sans-serif' font-size="4.8" font-weight="normal" text-anchor="end" fill="#262626" stroke="#262626" stroke-width="0.16" textLength="5.97" lengthAdjust="spacingAndGlyphs">0.2</text>
<line x1="542" y1="70.6" x2="543.4" y2="70.6" stroke="#8a8a8a" stroke-width="0.5"/>
<text x="541" y="72.4" font-family='"Liberation Sans", sans-serif' font-size="4.8" font-weight="normal" text-anchor="end" fill="#262626" stroke="#262626" stroke-width="0.16" textLength="5.97" lengthAdjust="spacingAndGlyphs">0.0</text>
<line x1="542" y1="88.4" x2="543.4" y2="88.4" stroke="#8a8a8a" stroke-width="0.5"/>
<text x="541" y="90.2" font-family='"Liberation Sans", sans-serif' font-size="4.8" font-weight="normal" text-anchor="end" fill="#262626" stroke="#262626" stroke-width="0.16" textLength="7.4" lengthAdjust="spacingAndGlyphs">-0.2</text>
<text x="610" y="27.6" font-family='"Liberation Sans", sans-serif' font-size="6.9" font-weight="bold" text-anchor="middle" fill="#262626" stroke="#262626" stroke-width="0.14" textLength="30.8" lengthAdjust="spacingAndGlyphs">Versus Fits</text>
<text x="610" y="116" font-family='"Liberation Sans", sans-serif' font-size="6.0" font-weight="bold" text-anchor="middle" fill="#2a2a2a" stroke="#2a2a2a" stroke-width="0.14" textLength="33" lengthAdjust="spacingAndGlyphs">Fitted Value</text>
<text x="529.2" y="67.3" font-family='"Liberation Sans", sans-serif' font-size="6.0" font-weight="bold" text-anchor="middle" fill="#2a2a2a" stroke="#2a2a2a" stroke-width="0.14" transform="rotate(-90 529.2 67.3)" textLength="22.4" lengthAdjust="spacingAndGlyphs">Residual</text>
<rect x="374.4" y="136" width="135.6" height="68" fill="#fff" stroke="#b4b4b4" stroke-width="0.6"/>
<rect x="377.4" y="195.65" width="9.26" height="8.35" fill="#7ba7d9" stroke="#46648a" stroke-width="0.45"/>
<rect x="386.66" y="195.65" width="9.26" height="8.35" fill="#7ba7d9" stroke="#46648a" stroke-width="0.45"/>
<rect x="395.92" y="178.95" width="9.26" height="25.05" fill="#7ba7d9" stroke="#46648a" stroke-width="0.45"/>
<rect x="405.18" y="195.65" width="9.26" height="8.35" fill="#7ba7d9" stroke="#46648a" stroke-width="0.45"/>
<rect x="414.44" y="187.3" width="9.26" height="16.7" fill="#7ba7d9" stroke="#46648a" stroke-width="0.45"/>
<rect x="423.7" y="145.55" width="9.26" height="58.45" fill="#7ba7d9" stroke="#46648a" stroke-width="0.45"/>
<rect x="432.96" y="178.95" width="9.26" height="25.05" fill="#7ba7d9" stroke="#46648a" stroke-width="0.45"/>
<rect x="442.22" y="170.6" width="9.26" height="33.4" fill="#7ba7d9" stroke="#46648a" stroke-width="0.45"/>
<rect x="451.48" y="187.3" width="9.26" height="16.7" fill="#7ba7d9" stroke="#46648a" stroke-width="0.45"/>
<rect x="460.74" y="162.25" width="9.26" height="41.75" fill="#7ba7d9" stroke="#46648a" stroke-width="0.45"/>
<rect x="470" y="195.65" width="9.26" height="8.35" fill="#7ba7d9" stroke="#46648a" stroke-width="0.45"/>
<rect x="479.26" y="195.65" width="9.26" height="8.35" fill="#7ba7d9" stroke="#46648a" stroke-width="0.45"/>
<rect x="497.78" y="195.65" width="9.26" height="8.35" fill="#7ba7d9" stroke="#46648a" stroke-width="0.45"/>
<line x1="382" y1="204" x2="382" y2="205.4" stroke="#8a8a8a" stroke-width="0.5"/>
<text x="382" y="210.3" font-family='"Liberation Sans", sans-serif' font-size="4.8" font-weight="normal" text-anchor="middle" fill="#262626" stroke="#262626" stroke-width="0.16" textLength="7.4" lengthAdjust="spacingAndGlyphs">-0.3</text>
<line x1="400.4" y1="204" x2="400.4" y2="205.4" stroke="#8a8a8a" stroke-width="0.5"/>
<text x="400.4" y="210.3" font-family='"Liberation Sans", sans-serif' font-size="4.8" font-weight="normal" text-anchor="middle" fill="#262626" stroke="#262626" stroke-width="0.16" textLength="7.4" lengthAdjust="spacingAndGlyphs">-0.2</text>
<line x1="418.8" y1="204" x2="418.8" y2="205.4" stroke="#8a8a8a" stroke-width="0.5"/>
<text x="418.8" y="210.3" font-family='"Liberation Sans", sans-serif' font-size="4.8" font-weight="normal" text-anchor="middle" fill="#262626" stroke="#262626" stroke-width="0.16" textLength="7.4" lengthAdjust="spacingAndGlyphs">-0.1</text>
<line x1="437.2" y1="204" x2="437.2" y2="205.4" stroke="#8a8a8a" stroke-width="0.5"/>
<text x="437.2" y="210.3" font-family='"Liberation Sans", sans-serif' font-size="4.8" font-weight="normal" text-anchor="middle" fill="#262626" stroke="#262626" stroke-width="0.16" textLength="5.97" lengthAdjust="spacingAndGlyphs">0.0</text>
<line x1="455.6" y1="204" x2="455.6" y2="205.4" stroke="#8a8a8a" stroke-width="0.5"/>
<text x="455.6" y="210.3" font-family='"Liberation Sans", sans-serif' font-size="4.8" font-weight="normal" text-anchor="middle" fill="#262626" stroke="#262626" stroke-width="0.16" textLength="5.97" lengthAdjust="spacingAndGlyphs">0.1</text>
<line x1="474" y1="204" x2="474" y2="205.4" stroke="#8a8a8a" stroke-width="0.5"/>
<text x="474" y="210.3" font-family='"Liberation Sans", sans-serif' font-size="4.8" font-weight="normal" text-anchor="middle" fill="#262626" stroke="#262626" stroke-width="0.16" textLength="5.97" lengthAdjust="spacingAndGlyphs">0.2</text>
<line x1="492.4" y1="204" x2="492.4" y2="205.4" stroke="#8a8a8a" stroke-width="0.5"/>
<text x="492.4" y="210.3" font-family='"Liberation Sans", sans-serif' font-size="4.8" font-weight="normal" text-anchor="middle" fill="#262626" stroke="#262626" stroke-width="0.16" textLength="5.97" lengthAdjust="spacingAndGlyphs">0.3</text>
<line x1="373" y1="137.2" x2="374.4" y2="137.2" stroke="#8a8a8a" stroke-width="0.5"/>
<text x="372" y="139" font-family='"Liberation Sans", sans-serif' font-size="4.8" font-weight="normal" text-anchor="end" fill="#262626" stroke="#262626" stroke-width="0.16">8</text>
<line x1="373" y1="154" x2="374.4" y2="154" stroke="#8a8a8a" stroke-width="0.5"/>
<text x="372" y="155.8" font-family='"Liberation Sans", sans-serif' font-size="4.8" font-weight="normal" text-anchor="end" fill="#262626" stroke="#262626" stroke-width="0.16">6</text>
<line x1="373" y1="170.6" x2="374.4" y2="170.6" stroke="#8a8a8a" stroke-width="0.5"/>
<text x="372" y="172.4" font-family='"Liberation Sans", sans-serif' font-size="4.8" font-weight="normal" text-anchor="end" fill="#262626" stroke="#262626" stroke-width="0.16">4</text>
<line x1="373" y1="187.4" x2="374.4" y2="187.4" stroke="#8a8a8a" stroke-width="0.5"/>
<text x="372" y="189.2" font-family='"Liberation Sans", sans-serif' font-size="4.8" font-weight="normal" text-anchor="end" fill="#262626" stroke="#262626" stroke-width="0.16">2</text>
<line x1="373" y1="204" x2="374.4" y2="204" stroke="#8a8a8a" stroke-width="0.5"/>
<text x="372" y="205.8" font-family='"Liberation Sans", sans-serif' font-size="4.8" font-weight="normal" text-anchor="end" fill="#262626" stroke="#262626" stroke-width="0.16">0</text>
<text x="442.2" y="131.2" font-family='"Liberation Sans", sans-serif' font-size="6.9" font-weight="bold" text-anchor="middle" fill="#262626" stroke="#262626" stroke-width="0.14" textLength="29.6" lengthAdjust="spacingAndGlyphs">Histogram</text>
<text x="442.2" y="219.4" font-family='"Liberation Sans", sans-serif' font-size="6.0" font-weight="bold" text-anchor="middle" fill="#2a2a2a" stroke="#2a2a2a" stroke-width="0.14" textLength="22.4" lengthAdjust="spacingAndGlyphs">Residual</text>
<text x="364.9" y="170" font-family='"Liberation Sans", sans-serif' font-size="6.0" font-weight="bold" text-anchor="middle" fill="#2a2a2a" stroke="#2a2a2a" stroke-width="0.14" transform="rotate(-90 364.9 170)" textLength="28.5" lengthAdjust="spacingAndGlyphs">Frequency</text>
<rect x="543.6" y="136" width="133" height="68" fill="#fff" stroke="#b4b4b4" stroke-width="0.6"/>
<line x1="543.6" y1="173.6" x2="676.6" y2="173.6" stroke="#d2d2d2" stroke-width="1.3" stroke-dasharray="2 1.8"/>
<polyline fill="none" stroke="#2a72b6" stroke-width="0.58" points="546.6,174.4 550.7,176.4 554.79,183.4 558.89,178.4 562.99,168 567.09,180.4 571.18,143.8 575.28,160.4 579.38,170.6 583.47,174.8 587.57,190.2 591.67,193.8 595.76,178 599.86,177.4 603.96,163.8 608.06,167.4 612.15,186.4 616.25,184.4 620.35,171 624.44,160.8 628.54,162.4 632.64,160 636.73,161.4 640.83,180.8 644.93,164.6 649.03,172.4 653.12,197.8 657.22,200.6 661.32,177.2 665.41,192 669.51,152.2 673.61,157.6"/>
<circle cx="546.6" cy="174.4" r="1.8" fill="#0054a6"/>
<circle cx="550.7" cy="176.4" r="1.8" fill="#0054a6"/>
<circle cx="554.79" cy="183.4" r="1.8" fill="#0054a6"/>
<circle cx="558.89" cy="178.4" r="1.8" fill="#0054a6"/>
<circle cx="562.99" cy="168" r="1.8" fill="#0054a6"/>
<circle cx="567.09" cy="180.4" r="1.8" fill="#0054a6"/>
<circle cx="571.18" cy="143.8" r="1.8" fill="#0054a6"/>
<circle cx="575.28" cy="160.4" r="1.8" fill="#0054a6"/>
<circle cx="579.38" cy="170.6" r="1.8" fill="#0054a6"/>
<circle cx="583.47" cy="174.8" r="1.8" fill="#0054a6"/>
<circle cx="587.57" cy="190.2" r="1.8" fill="#0054a6"/>
<circle cx="591.67" cy="193.8" r="1.8" fill="#0054a6"/>
<circle cx="595.76" cy="178" r="1.8" fill="#0054a6"/>
<circle cx="599.86" cy="177.4" r="1.8" fill="#0054a6"/>
<circle cx="603.96" cy="163.8" r="1.8" fill="#0054a6"/>
<circle cx="608.06" cy="167.4" r="1.8" fill="#0054a6"/>
<circle cx="612.15" cy="186.4" r="1.8" fill="#0054a6"/>
<circle cx="616.25" cy="184.4" r="1.8" fill="#0054a6"/>
<circle cx="620.35" cy="171" r="1.8" fill="#0054a6"/>
<circle cx="624.44" cy="160.8" r="1.8" fill="#0054a6"/>
<circle cx="628.54" cy="162.4" r="1.8" fill="#0054a6"/>
<circle cx="632.64" cy="160" r="1.8" fill="#0054a6"/>
<circle cx="636.73" cy="161.4" r="1.8" fill="#0054a6"/>
<circle cx="640.83" cy="180.8" r="1.8" fill="#0054a6"/>
<circle cx="644.93" cy="164.6" r="1.8" fill="#0054a6"/>
<circle cx="649.03" cy="172.4" r="1.8" fill="#0054a6"/>
<circle cx="653.12" cy="197.8" r="1.8" fill="#0054a6"/>
<circle cx="657.22" cy="200.6" r="1.8" fill="#0054a6"/>
<circle cx="661.32" cy="177.2" r="1.8" fill="#0054a6"/>
<circle cx="665.41" cy="192" r="1.8" fill="#0054a6"/>
<circle cx="669.51" cy="152.2" r="1.8" fill="#0054a6"/>
<circle cx="673.61" cy="157.6" r="1.8" fill="#0054a6"/>
<line x1="550.7" y1="204" x2="550.7" y2="205.4" stroke="#8a8a8a" stroke-width="0.5"/>
<text x="550.7" y="210.3" font-family='"Liberation Sans", sans-serif' font-size="4.8" font-weight="normal" text-anchor="middle" fill="#262626" stroke="#262626" stroke-width="0.16">2</text>
<line x1="558.89" y1="204" x2="558.89" y2="205.4" stroke="#8a8a8a" stroke-width="0.5"/>
<text x="558.89" y="210.3" font-family='"Liberation Sans", sans-serif' font-size="4.8" font-weight="normal" text-anchor="middle" fill="#262626" stroke="#262626" stroke-width="0.16">4</text>
<line x1="567.09" y1="204" x2="567.09" y2="205.4" stroke="#8a8a8a" stroke-width="0.5"/>
<text x="567.09" y="210.3" font-family='"Liberation Sans", sans-serif' font-size="4.8" font-weight="normal" text-anchor="middle" fill="#262626" stroke="#262626" stroke-width="0.16">6</text>
<line x1="575.28" y1="204" x2="575.28" y2="205.4" stroke="#8a8a8a" stroke-width="0.5"/>
<text x="575.28" y="210.3" font-family='"Liberation Sans", sans-serif' font-size="4.8" font-weight="normal" text-anchor="middle" fill="#262626" stroke="#262626" stroke-width="0.16">8</text>
<line x1="583.47" y1="204" x2="583.47" y2="205.4" stroke="#8a8a8a" stroke-width="0.5"/>
<text x="583.47" y="210.3" font-family='"Liberation Sans", sans-serif' font-size="4.8" font-weight="normal" text-anchor="middle" fill="#262626" stroke="#262626" stroke-width="0.16" textLength="4.46" lengthAdjust="spacingAndGlyphs">10</text>
<line x1="591.67" y1="204" x2="591.67" y2="205.4" stroke="#8a8a8a" stroke-width="0.5"/>
<text x="591.67" y="210.3" font-family='"Liberation Sans", sans-serif' font-size="4.8" font-weight="normal" text-anchor="middle" fill="#262626" stroke="#262626" stroke-width="0.16" textLength="4.46" lengthAdjust="spacingAndGlyphs">12</text>
<line x1="599.86" y1="204" x2="599.86" y2="205.4" stroke="#8a8a8a" stroke-width="0.5"/>
<text x="599.86" y="210.3" font-family='"Liberation Sans", sans-serif' font-size="4.8" font-weight="normal" text-anchor="middle" fill="#262626" stroke="#262626" stroke-width="0.16" textLength="4.46" lengthAdjust="spacingAndGlyphs">14</text>
<line x1="608.06" y1="204" x2="608.06" y2="205.4" stroke="#8a8a8a" stroke-width="0.5"/>
<text x="608.06" y="210.3" font-family='"Liberation Sans", sans-serif' font-size="4.8" font-weight="normal" text-anchor="middle" fill="#262626" stroke="#262626" stroke-width="0.16" textLength="4.46" lengthAdjust="spacingAndGlyphs">16</text>
<line x1="616.25" y1="204" x2="616.25" y2="205.4" stroke="#8a8a8a" stroke-width="0.5"/>
<text x="616.25" y="210.3" font-family='"Liberation Sans", sans-serif' font-size="4.8" font-weight="normal" text-anchor="middle" fill="#262626" stroke="#262626" stroke-width="0.16" textLength="4.46" lengthAdjust="spacingAndGlyphs">18</text>
<line x1="624.44" y1="204" x2="624.44" y2="205.4" stroke="#8a8a8a" stroke-width="0.5"/>
<text x="624.44" y="210.3" font-family='"Liberation Sans", sans-serif' font-size="4.8" font-weight="normal" text-anchor="middle" fill="#262626" stroke="#262626" stroke-width="0.16" textLength="4.46" lengthAdjust="spacingAndGlyphs">20</text>
<line x1="632.64" y1="204" x2="632.64" y2="205.4" stroke="#8a8a8a" stroke-width="0.5"/>
<text x="632.64" y="210.3" font-family='"Liberation Sans", sans-serif' font-size="4.8" font-weight="normal" text-anchor="middle" fill="#262626" stroke="#262626" stroke-width="0.16" textLength="4.46" lengthAdjust="spacingAndGlyphs">22</text>
<line x1="640.83" y1="204" x2="640.83" y2="205.4" stroke="#8a8a8a" stroke-width="0.5"/>
<text x="640.83" y="210.3" font-family='"Liberation Sans", sans-serif' font-size="4.8" font-weight="normal" text-anchor="middle" fill="#262626" stroke="#262626" stroke-width="0.16" textLength="4.46" lengthAdjust="spacingAndGlyphs">24</text>
<line x1="649.03" y1="204" x2="649.03" y2="205.4" stroke="#8a8a8a" stroke-width="0.5"/>
<text x="649.03" y="210.3" font-family='"Liberation Sans", sans-serif' font-size="4.8" font-weight="normal" text-anchor="middle" fill="#262626" stroke="#262626" stroke-width="0.16" textLength="4.46" lengthAdjust="spacingAndGlyphs">26</text>
<line x1="657.22" y1="204" x2="657.22" y2="205.4" stroke="#8a8a8a" stroke-width="0.5"/>
<text x="657.22" y="210.3" font-family='"Liberation Sans", sans-serif' font-size="4.8" font-weight="normal" text-anchor="middle" fill="#262626" stroke="#262626" stroke-width="0.16" textLength="4.46" lengthAdjust="spacingAndGlyphs">28</text>
<line x1="665.41" y1="204" x2="665.41" y2="205.4" stroke="#8a8a8a" stroke-width="0.5"/>
<text x="665.41" y="210.3" font-family='"Liberation Sans", sans-serif' font-size="4.8" font-weight="normal" text-anchor="middle" fill="#262626" stroke="#262626" stroke-width="0.16" textLength="4.46" lengthAdjust="spacingAndGlyphs">30</text>
<line x1="673.61" y1="204" x2="673.61" y2="205.4" stroke="#8a8a8a" stroke-width="0.5"/>
<text x="673.61" y="210.3" font-family='"Liberation Sans", sans-serif' font-size="4.8" font-weight="normal" text-anchor="middle" fill="#262626" stroke="#262626" stroke-width="0.16" textLength="4.46" lengthAdjust="spacingAndGlyphs">32</text>
<line x1="542.2" y1="137.4" x2="543.6" y2="137.4" stroke="#8a8a8a" stroke-width="0.5"/>
<text x="541.2" y="139.2" font-family='"Liberation Sans", sans-serif' font-size="4.8" font-weight="normal" text-anchor="end" fill="#262626" stroke="#262626" stroke-width="0.16" textLength="5.97" lengthAdjust="spacingAndGlyphs">0.4</text>
<line x1="542.2" y1="155.4" x2="543.6" y2="155.4" stroke="#8a8a8a" stroke-width="0.5"/>
<text x="541.2" y="157.2" font-family='"Liberation Sans", sans-serif' font-size="4.8" font-weight="normal" text-anchor="end" fill="#262626" stroke="#262626" stroke-width="0.16" textLength="5.97" lengthAdjust="spacingAndGlyphs">0.2</text>
<line x1="542.2" y1="173.6" x2="543.6" y2="173.6" stroke="#8a8a8a" stroke-width="0.5"/>
<text x="541.2" y="175.4" font-family='"Liberation Sans", sans-serif' font-size="4.8" font-weight="normal" text-anchor="end" fill="#262626" stroke="#262626" stroke-width="0.16" textLength="5.97" lengthAdjust="spacingAndGlyphs">0.0</text>
<line x1="542.2" y1="191.8" x2="543.6" y2="191.8" stroke="#8a8a8a" stroke-width="0.5"/>
<text x="541.2" y="193.6" font-family='"Liberation Sans", sans-serif' font-size="4.8" font-weight="normal" text-anchor="end" fill="#262626" stroke="#262626" stroke-width="0.16" textLength="7.4" lengthAdjust="spacingAndGlyphs">-0.2</text>
<text x="610.1" y="131.2" font-family='"Liberation Sans", sans-serif' font-size="6.9" font-weight="bold" text-anchor="middle" fill="#262626" stroke="#262626" stroke-width="0.14" textLength="37" lengthAdjust="spacingAndGlyphs">Versus Order</text>
<text x="610.1" y="219.4" font-family='"Liberation Sans", sans-serif' font-size="6.0" font-weight="bold" text-anchor="middle" fill="#2a2a2a" stroke="#2a2a2a" stroke-width="0.14" textLength="52" lengthAdjust="spacingAndGlyphs">Observation Order</text>
<text x="529.2" y="170" font-family='"Liberation Sans", sans-serif' font-size="6.0" font-weight="bold" text-anchor="middle" fill="#2a2a2a" stroke="#2a2a2a" stroke-width="0.14" transform="rotate(-90 529.2 170)" textLength="22.4" lengthAdjust="spacingAndGlyphs">Residual</text>
<rect x="2.4" y="294" width="331" height="220.7" fill="#e6e6e6" stroke="#dddddd" stroke-width="0.5"/>
<text x="167.6" y="308.7" font-family='"Liberation Sans", sans-serif' font-size="8.5" font-weight="normal" text-anchor="middle" fill="#222" stroke="#222" stroke-width="0.42" textLength="79.4" lengthAdjust="spacingAndGlyphs">Residual Plots for SR</text>
<rect x="28.7" y="325.6" width="131.9" height="66.2" fill="#fff" stroke="#b4b4b4" stroke-width="0.6"/>
<line x1="30.6" y1="325.6" x2="30.6" y2="391.8" stroke="#d0d0d0" stroke-width="0.6" stroke-dasharray="1.6 1.6"/>
<line x1="48.6" y1="325.6" x2="48.6" y2="391.8" stroke="#d0d0d0" stroke-width="0.6" stroke-dasharray="1.6 1.6"/>
<line x1="66.6" y1="325.6" x2="66.6" y2="391.8" stroke="#d0d0d0" stroke-width="0.6" stroke-dasharray="1.6 1.6"/>
<line x1="84.6" y1="325.6" x2="84.6" y2="391.8" stroke="#d0d0d0" stroke-width="0.6" stroke-dasharray="1.6 1.6"/>
<line x1="102.6" y1="325.6" x2="102.6" y2="391.8" stroke="#d0d0d0" stroke-width="0.6" stroke-dasharray="1.6 1.6"/>
<line x1="120.6" y1="325.6" x2="120.6" y2="391.8" stroke="#d0d0d0" stroke-width="0.6" stroke-dasharray="1.6 1.6"/>
<line x1="138.6" y1="325.6" x2="138.6" y2="391.8" stroke="#d0d0d0" stroke-width="0.6" stroke-dasharray="1.6 1.6"/>
<line x1="156.6" y1="325.6" x2="156.6" y2="391.8" stroke="#d0d0d0" stroke-width="0.6" stroke-dasharray="1.6 1.6"/>
<line x1="28.7" y1="340.47" x2="160.6" y2="340.47" stroke="#d0d0d0" stroke-width="0.6" stroke-dasharray="1.6 1.6"/>
<line x1="28.7" y1="358.7" x2="160.6" y2="358.7" stroke="#d0d0d0" stroke-width="0.6" stroke-dasharray="1.6 1.6"/>
<line x1="28.7" y1="376.93" x2="160.6" y2="376.93" stroke="#d0d0d0" stroke-width="0.6" stroke-dasharray="1.6 1.6"/>
<line x1="53.2" y1="391.8" x2="151.6" y2="325.6" stroke="#9c3a36" stroke-width="0.7"/>
<circle cx="44.85" cy="387.47" r="1.8" fill="#0054a6"/>
<circle cx="59.86" cy="381.77" r="1.8" fill="#0054a6"/>
<circle cx="82.96" cy="378.38" r="1.8" fill="#0054a6"/>
<circle cx="84.12" cy="375.84" r="1.8" fill="#0054a6"/>
<circle cx="84.89" cy="373.75" r="1.8" fill="#0054a6"/>
<circle cx="87.2" cy="371.95" r="1.8" fill="#0054a6"/>
<circle cx="88.35" cy="370.33" r="1.8" fill="#0054a6"/>
<circle cx="89.89" cy="368.86" r="1.8" fill="#0054a6"/>
<circle cx="90.66" cy="367.48" r="1.8" fill="#0054a6"/>
<circle cx="91.82" cy="366.19" r="1.8" fill="#0054a6"/>
<circle cx="94.13" cy="364.95" r="1.8" fill="#0054a6"/>
<circle cx="94.9" cy="363.76" r="1.8" fill="#0054a6"/>
<circle cx="96.44" cy="362.6" r="1.8" fill="#0054a6"/>
<circle cx="97.21" cy="361.47" r="1.8" fill="#0054a6"/>
<circle cx="98.75" cy="360.35" r="1.8" fill="#0054a6"/>
<circle cx="99.13" cy="359.25" r="1.8" fill="#0054a6"/>
<circle cx="101.44" cy="358.15" r="1.8" fill="#0054a6"/>
<circle cx="104.14" cy="357.05" r="1.8" fill="#0054a6"/>
<circle cx="106.07" cy="355.93" r="1.8" fill="#0054a6"/>
<circle cx="108.76" cy="354.8" r="1.8" fill="#0054a6"/>
<circle cx="109.53" cy="353.64" r="1.8" fill="#0054a6"/>
<circle cx="113" cy="352.45" r="1.8" fill="#0054a6"/>
<circle cx="113.38" cy="351.21" r="1.8" fill="#0054a6"/>
<circle cx="113.38" cy="349.92" r="1.8" fill="#0054a6"/>
<circle cx="114.92" cy="348.54" r="1.8" fill="#0054a6"/>
<circle cx="116.85" cy="347.07" r="1.8" fill="#0054a6"/>
<circle cx="117.62" cy="345.45" r="1.8" fill="#0054a6"/>
<circle cx="121.85" cy="343.65" r="1.8" fill="#0054a6"/>
<circle cx="126.47" cy="341.56" r="1.8" fill="#0054a6"/>
<circle cx="133.4" cy="339.02" r="1.8" fill="#0054a6"/>
<circle cx="136.1" cy="335.63" r="1.8" fill="#0054a6"/>
<circle cx="154.58" cy="329.93" r="1.8" fill="#0054a6"/>
<line x1="30.6" y1="391.8" x2="30.6" y2="393.2" stroke="#8a8a8a" stroke-width="0.5"/>
<text x="30.6" y="398.1" font-family='"Liberation Sans", sans-serif' font-size="4.8" font-weight="normal" text-anchor="middle" fill="#262626" stroke="#262626" stroke-width="0.16" textLength="3.56" lengthAdjust="spacingAndGlyphs">-2</text>
<line x1="66.6" y1="391.8" x2="66.6" y2="393.2" stroke="#8a8a8a" stroke-width="0.5"/>
<text x="66.6" y="398.1" font-family='"Liberation Sans", sans-serif' font-size="4.8" font-weight="normal" text-anchor="middle" fill="#262626" stroke="#262626" stroke-width="0.16" textLength="3.56" lengthAdjust="spacingAndGlyphs">-1</text>
<line x1="102.6" y1="391.8" x2="102.6" y2="393.2" stroke="#8a8a8a" stroke-width="0.5"/>
<text x="102.6" y="398.1" font-family='"Liberation Sans", sans-serif' font-size="4.8" font-weight="normal" text-anchor="middle" fill="#262626" stroke="#262626" stroke-width="0.16">0</text>
<line x1="138.6" y1="391.8" x2="138.6" y2="393.2" stroke="#8a8a8a" stroke-width="0.5"/>
<text x="138.6" y="398.1" font-family='"Liberation Sans", sans-serif' font-size="4.8" font-weight="normal" text-anchor="middle" fill="#262626" stroke="#262626" stroke-width="0.16">1</text>
<line x1="27.3" y1="325.6" x2="28.7" y2="325.6" stroke="#8a8a8a" stroke-width="0.5"/>
<text x="26.3" y="327.4" font-family='"Liberation Sans", sans-serif' font-size="4.8" font-weight="normal" text-anchor="end" fill="#262626" stroke="#262626" stroke-width="0.16" textLength="4.67" lengthAdjust="spacingAndGlyphs">99</text>
<line x1="27.3" y1="340.47" x2="28.7" y2="340.47" stroke="#8a8a8a" stroke-width="0.5"/>
<text x="26.3" y="342.27" font-family='"Liberation Sans", sans-serif' font-size="4.8" font-weight="normal" text-anchor="end" fill="#262626" stroke="#262626" stroke-width="0.16" textLength="4.67" lengthAdjust="spacingAndGlyphs">90</text>
<line x1="27.3" y1="358.7" x2="28.7" y2="358.7" stroke="#8a8a8a" stroke-width="0.5"/>
<text x="26.3" y="360.5" font-family='"Liberation Sans", sans-serif' font-size="4.8" font-weight="normal" text-anchor="end" fill="#262626" stroke="#262626" stroke-width="0.16" textLength="4.67" lengthAdjust="spacingAndGlyphs">50</text>
<line x1="27.3" y1="376.93" x2="28.7" y2="376.93" stroke="#8a8a8a" stroke-width="0.5"/>
<text x="26.3" y="378.73" font-family='"Liberation Sans", sans-serif' font-size="4.8" font-weight="normal" text-anchor="end" fill="#262626" stroke="#262626" stroke-width="0.16" textLength="4.67" lengthAdjust="spacingAndGlyphs">10</text>
<line x1="27.3" y1="391.8" x2="28.7" y2="391.8" stroke="#8a8a8a" stroke-width="0.5"/>
<text x="26.3" y="393.6" font-family='"Liberation Sans", sans-serif' font-size="4.8" font-weight="normal" text-anchor="end" fill="#262626" stroke="#262626" stroke-width="0.16">1</text>
<text x="94.65" y="319.3" font-family='"Liberation Sans", sans-serif' font-size="6.9" font-weight="bold" text-anchor="middle" fill="#262626" stroke="#262626" stroke-width="0.14" textLength="68" lengthAdjust="spacingAndGlyphs">Normal Probability Plot</text>
<text x="94.65" y="407.2" font-family='"Liberation Sans", sans-serif' font-size="6.0" font-weight="bold" text-anchor="middle" fill="#2a2a2a" stroke="#2a2a2a" stroke-width="0.14" textLength="22.4" lengthAdjust="spacingAndGlyphs">Residual</text>
<text x="15.9" y="358.7" font-family='"Liberation Sans", sans-serif' font-size="6.0" font-weight="bold" text-anchor="middle" fill="#2a2a2a" stroke="#2a2a2a" stroke-width="0.14" transform="rotate(-90 15.9 358.7)" textLength="21" lengthAdjust="spacingAndGlyphs">Percent</text>
<rect x="190" y="325.6" width="136.1" height="66.2" fill="#fff" stroke="#b4b4b4" stroke-width="0.6"/>
<line x1="190" y1="354.6" x2="326.1" y2="354.6" stroke="#d2d2d2" stroke-width="1.3" stroke-dasharray="2 1.8"/>
<circle cx="197.8" cy="345.1" r="1.8" fill="#0054a6"/>
<circle cx="201.1" cy="348.8" r="1.8" fill="#0054a6"/>
<circle cx="203.5" cy="349.3" r="1.8" fill="#0054a6"/>
<circle cx="207.2" cy="349.4" r="1.8" fill="#0054a6"/>
<circle cx="209.8" cy="347.7" r="1.8" fill="#0054a6"/>
<circle cx="212.7" cy="349.4" r="1.8" fill="#0054a6"/>
<circle cx="209.8" cy="351.5" r="1.8" fill="#0054a6"/>
<circle cx="209.8" cy="354" r="1.8" fill="#0054a6"/>
<circle cx="207.3" cy="360.1" r="1.8" fill="#0054a6"/>
<circle cx="215.6" cy="358.5" r="1.8" fill="#0054a6"/>
<circle cx="216" cy="359.7" r="1.8" fill="#0054a6"/>
<circle cx="218.4" cy="356.9" r="1.8" fill="#0054a6"/>
<circle cx="219.1" cy="362.2" r="1.8" fill="#0054a6"/>
<circle cx="216.6" cy="364.4" r="1.8" fill="#0054a6"/>
<circle cx="217.6" cy="363" r="1.8" fill="#0054a6"/>
<circle cx="229.6" cy="342.9" r="1.8" fill="#0054a6"/>
<circle cx="232.4" cy="348" r="1.8" fill="#0054a6"/>
<circle cx="231" cy="360.9" r="1.8" fill="#0054a6"/>
<circle cx="235.6" cy="358.1" r="1.8" fill="#0054a6"/>
<circle cx="244.4" cy="357.4" r="1.8" fill="#0054a6"/>
<circle cx="241.5" cy="364.1" r="1.8" fill="#0054a6"/>
<circle cx="238.9" cy="376.2" r="1.8" fill="#0054a6"/>
<circle cx="256.3" cy="353.2" r="1.8" fill="#0054a6"/>
<circle cx="265.2" cy="338.3" r="1.8" fill="#0054a6"/>
<circle cx="266.1" cy="363.5" r="1.8" fill="#0054a6"/>
<circle cx="278.8" cy="329" r="1.8" fill="#0054a6"/>
<circle cx="281.1" cy="351.2" r="1.8" fill="#0054a6"/>
<circle cx="274.7" cy="383.3" r="1.8" fill="#0054a6"/>
<circle cx="292.3" cy="339.3" r="1.8" fill="#0054a6"/>
<circle cx="293.3" cy="361.2" r="1.8" fill="#0054a6"/>
<circle cx="313.5" cy="355.2" r="1.8" fill="#0054a6"/>
<circle cx="318.3" cy="356.6" r="1.8" fill="#0054a6"/>
<line x1="209" y1="391.8" x2="209" y2="393.2" stroke="#8a8a8a" stroke-width="0.5"/>
<text x="209" y="398.1" font-family='"Liberation Sans", sans-serif' font-size="4.8" font-weight="normal" text-anchor="middle" fill="#262626" stroke="#262626" stroke-width="0.16">2</text>
<line x1="245.9" y1="391.8" x2="245.9" y2="393.2" stroke="#8a8a8a" stroke-width="0.5"/>
<text x="245.9" y="398.1" font-family='"Liberation Sans", sans-serif' font-size="4.8" font-weight="normal" text-anchor="middle" fill="#262626" stroke="#262626" stroke-width="0.16">4</text>
<line x1="282.8" y1="391.8" x2="282.8" y2="393.2" stroke="#8a8a8a" stroke-width="0.5"/>
<text x="282.8" y="398.1" font-family='"Liberation Sans", sans-serif' font-size="4.8" font-weight="normal" text-anchor="middle" fill="#262626" stroke="#262626" stroke-width="0.16">6</text>
<line x1="319.7" y1="391.8" x2="319.7" y2="393.2" stroke="#8a8a8a" stroke-width="0.5"/>
<text x="319.7" y="398.1" font-family='"Liberation Sans", sans-serif' font-size="4.8" font-weight="normal" text-anchor="middle" fill="#262626" stroke="#262626" stroke-width="0.16">8</text>
<line x1="188.6" y1="336.4" x2="190" y2="336.4" stroke="#8a8a8a" stroke-width="0.5"/>
<text x="187.6" y="338.2" font-family='"Liberation Sans", sans-serif' font-size="4.8" font-weight="normal" text-anchor="end" fill="#262626" stroke="#262626" stroke-width="0.16">1</text>
<line x1="188.6" y1="354.6" x2="190" y2="354.6" stroke="#8a8a8a" stroke-width="0.5"/>
<text x="187.6" y="356.4" font-family='"Liberation Sans", sans-serif' font-size="4.8" font-weight="normal" text-anchor="end" fill="#262626" stroke="#262626" stroke-width="0.16">0</text>
<line x1="188.6" y1="372.6" x2="190" y2="372.6" stroke="#8a8a8a" stroke-width="0.5"/>
<text x="187.6" y="374.4" font-family='"Liberation Sans", sans-serif' font-size="4.8" font-weight="normal" text-anchor="end" fill="#262626" stroke="#262626" stroke-width="0.16" textLength="3.73" lengthAdjust="spacingAndGlyphs">-1</text>
<line x1="188.6" y1="391" x2="190" y2="391" stroke="#8a8a8a" stroke-width="0.5"/>
<text x="187.6" y="392.8" font-family='"Liberation Sans", sans-serif' font-size="4.8" font-weight="normal" text-anchor="end" fill="#262626" stroke="#262626" stroke-width="0.16" textLength="3.73" lengthAdjust="spacingAndGlyphs">-2</text>
<text x="258.05" y="319.3" font-family='"Liberation Sans", sans-serif' font-size="6.9" font-weight="bold" text-anchor="middle" fill="#262626" stroke="#262626" stroke-width="0.14" textLength="30.8" lengthAdjust="spacingAndGlyphs">Versus Fits</text>
<text x="258.05" y="407.2" font-family='"Liberation Sans", sans-serif' font-size="6.0" font-weight="bold" text-anchor="middle" fill="#2a2a2a" stroke="#2a2a2a" stroke-width="0.14" textLength="33" lengthAdjust="spacingAndGlyphs">Fitted Value</text>
<text x="178.9" y="358.7" font-family='"Liberation Sans", sans-serif' font-size="6.0" font-weight="bold" text-anchor="middle" fill="#2a2a2a" stroke="#2a2a2a" stroke-width="0.14" transform="rotate(-90 178.9 358.7)" textLength="22.4" lengthAdjust="spacingAndGlyphs">Residual</text>
<rect x="28.6" y="425.6" width="132" height="69.4" fill="#fff" stroke="#b4b4b4" stroke-width="0.6"/>
<rect x="33" y="488.28" width="13.65" height="6.52" fill="#7ba7d9" stroke="#46648a" stroke-width="0.45"/>
<rect x="46.65" y="488.28" width="13.65" height="6.52" fill="#7ba7d9" stroke="#46648a" stroke-width="0.45"/>
<rect x="73.95" y="429.6" width="13.65" height="65.2" fill="#7ba7d9" stroke="#46648a" stroke-width="0.45"/>
<rect x="87.6" y="442.64" width="13.65" height="52.16" fill="#7ba7d9" stroke="#46648a" stroke-width="0.45"/>
<rect x="101.25" y="442.64" width="13.65" height="52.16" fill="#7ba7d9" stroke="#46648a" stroke-width="0.45"/>
<rect x="114.9" y="475.24" width="13.65" height="19.56" fill="#7ba7d9" stroke="#46648a" stroke-width="0.45"/>
<rect x="142.2" y="488.28" width="13.65" height="6.52" fill="#7ba7d9" stroke="#46648a" stroke-width="0.45"/>
<line x1="39.8" y1="495" x2="39.8" y2="496.4" stroke="#8a8a8a" stroke-width="0.5"/>
<text x="39.8" y="501.3" font-family='"Liberation Sans", sans-serif' font-size="4.8" font-weight="normal" text-anchor="middle" fill="#262626" stroke="#262626" stroke-width="0.16" textLength="7.4" lengthAdjust="spacingAndGlyphs">-1.6</text>
<line x1="67.05" y1="495" x2="67.05" y2="496.4" stroke="#8a8a8a" stroke-width="0.5"/>
<text x="67.05" y="501.3" font-family='"Liberation Sans", sans-serif' font-size="4.8" font-weight="normal" text-anchor="middle" fill="#262626" stroke="#262626" stroke-width="0.16" textLength="7.4" lengthAdjust="spacingAndGlyphs">-0.8</text>
<line x1="94.3" y1="495" x2="94.3" y2="496.4" stroke="#8a8a8a" stroke-width="0.5"/>
<text x="94.3" y="501.3" font-family='"Liberation Sans", sans-serif' font-size="4.8" font-weight="normal" text-anchor="middle" fill="#262626" stroke="#262626" stroke-width="0.16" textLength="5.97" lengthAdjust="spacingAndGlyphs">0.0</text>
<line x1="121.55" y1="495" x2="121.55" y2="496.4" stroke="#8a8a8a" stroke-width="0.5"/>
<text x="121.55" y="501.3" font-family='"Liberation Sans", sans-serif' font-size="4.8" font-weight="normal" text-anchor="middle" fill="#262626" stroke="#262626" stroke-width="0.16" textLength="5.97" lengthAdjust="spacingAndGlyphs">0.8</text>
<line x1="148.8" y1="495" x2="148.8" y2="496.4" stroke="#8a8a8a" stroke-width="0.5"/>
<text x="148.8" y="501.3" font-family='"Liberation Sans", sans-serif' font-size="4.8" font-weight="normal" text-anchor="middle" fill="#262626" stroke="#262626" stroke-width="0.16" textLength="5.97" lengthAdjust="spacingAndGlyphs">1.6</text>
<line x1="27.2" y1="429.6" x2="28.6" y2="429.6" stroke="#8a8a8a" stroke-width="0.5"/>
<text x="26.2" y="431.4" font-family='"Liberation Sans", sans-serif' font-size="4.8" font-weight="normal" text-anchor="end" fill="#262626" stroke="#262626" stroke-width="0.16" textLength="8.36" lengthAdjust="spacingAndGlyphs">10.0</text>
<line x1="27.2" y1="446" x2="28.6" y2="446" stroke="#8a8a8a" stroke-width="0.5"/>
<text x="26.2" y="447.8" font-family='"Liberation Sans", sans-serif' font-size="4.8" font-weight="normal" text-anchor="end" fill="#262626" stroke="#262626" stroke-width="0.16" textLength="5.97" lengthAdjust="spacingAndGlyphs">7.5</text>
<line x1="27.2" y1="462.2" x2="28.6" y2="462.2" stroke="#8a8a8a" stroke-width="0.5"/>
<text x="26.2" y="464" font-family='"Liberation Sans", sans-serif' font-size="4.8" font-weight="normal" text-anchor="end" fill="#262626" stroke="#262626" stroke-width="0.16" textLength="5.97" lengthAdjust="spacingAndGlyphs">5.0</text>
<line x1="27.2" y1="478.6" x2="28.6" y2="478.6" stroke="#8a8a8a" stroke-width="0.5"/>
<text x="26.2" y="480.4" font-family='"Liberation Sans", sans-serif' font-size="4.8" font-weight="normal" text-anchor="end" fill="#262626" stroke="#262626" stroke-width="0.16" textLength="5.97" lengthAdjust="spacingAndGlyphs">2.5</text>
<line x1="27.2" y1="494.8" x2="28.6" y2="494.8" stroke="#8a8a8a" stroke-width="0.5"/>
<text x="26.2" y="496.6" font-family='"Liberation Sans", sans-serif' font-size="4.8" font-weight="normal" text-anchor="end" fill="#262626" stroke="#262626" stroke-width="0.16" textLength="5.97" lengthAdjust="spacingAndGlyphs">0.0</text>
<text x="94.6" y="422" font-family='"Liberation Sans", sans-serif' font-size="6.9" font-weight="bold" text-anchor="middle" fill="#262626" stroke="#262626" stroke-width="0.14" textLength="29.6" lengthAdjust="spacingAndGlyphs">Histogram</text>
<text x="94.6" y="510.4" font-family='"Liberation Sans", sans-serif' font-size="6.0" font-weight="bold" text-anchor="middle" fill="#2a2a2a" stroke="#2a2a2a" stroke-width="0.14" textLength="22.4" lengthAdjust="spacingAndGlyphs">Residual</text>
<text x="13.9" y="460.3" font-family='"Liberation Sans", sans-serif' font-size="6.0" font-weight="bold" text-anchor="middle" fill="#2a2a2a" stroke="#2a2a2a" stroke-width="0.14" transform="rotate(-90 13.9 460.3)" textLength="28.5" lengthAdjust="spacingAndGlyphs">Frequency</text>
<rect x="190.4" y="425.6" width="135.8" height="69.4" fill="#fff" stroke="#b4b4b4" stroke-width="0.6"/>
<line x1="190.4" y1="456" x2="326.2" y2="456" stroke="#d2d2d2" stroke-width="1.3" stroke-dasharray="2 1.8"/>
<polyline fill="none" stroke="#2a72b6" stroke-width="0.58" points="193.2,449.6 197.39,463.4 201.59,454.2 205.78,456.6 209.98,446 214.17,455.2 218.36,466.2 222.56,462.6 226.75,450.6 230.95,452.8 235.14,459.2 239.33,452.4 243.53,464 247.72,457.8 251.92,478.2 256.11,429 260.3,465.6 264.5,462.2 268.69,438.6 272.89,458 277.08,461.6 281.27,460 285.47,458.8 289.66,440 293.86,450.4 298.05,448.2 302.24,448.6 306.44,486 310.63,460.4 314.83,450.4 319.02,443.6 323.21,465.2"/>
<circle cx="193.2" cy="449.6" r="1.8" fill="#0054a6"/>
<circle cx="197.39" cy="463.4" r="1.8" fill="#0054a6"/>
<circle cx="201.59" cy="454.2" r="1.8" fill="#0054a6"/>
<circle cx="205.78" cy="456.6" r="1.8" fill="#0054a6"/>
<circle cx="209.98" cy="446" r="1.8" fill="#0054a6"/>
<circle cx="214.17" cy="455.2" r="1.8" fill="#0054a6"/>
<circle cx="218.36" cy="466.2" r="1.8" fill="#0054a6"/>
<circle cx="222.56" cy="462.6" r="1.8" fill="#0054a6"/>
<circle cx="226.75" cy="450.6" r="1.8" fill="#0054a6"/>
<circle cx="230.95" cy="452.8" r="1.8" fill="#0054a6"/>
<circle cx="235.14" cy="459.2" r="1.8" fill="#0054a6"/>
<circle cx="239.33" cy="452.4" r="1.8" fill="#0054a6"/>
<circle cx="243.53" cy="464" r="1.8" fill="#0054a6"/>
<circle cx="247.72" cy="457.8" r="1.8" fill="#0054a6"/>
<circle cx="251.92" cy="478.2" r="1.8" fill="#0054a6"/>
<circle cx="256.11" cy="429" r="1.8" fill="#0054a6"/>
<circle cx="260.3" cy="465.6" r="1.8" fill="#0054a6"/>
<circle cx="264.5" cy="462.2" r="1.8" fill="#0054a6"/>
<circle cx="268.69" cy="438.6" r="1.8" fill="#0054a6"/>
<circle cx="272.89" cy="458" r="1.8" fill="#0054a6"/>
<circle cx="277.08" cy="461.6" r="1.8" fill="#0054a6"/>
<circle cx="281.27" cy="460" r="1.8" fill="#0054a6"/>
<circle cx="285.47" cy="458.8" r="1.8" fill="#0054a6"/>
<circle cx="289.66" cy="440" r="1.8" fill="#0054a6"/>
<circle cx="293.86" cy="450.4" r="1.8" fill="#0054a6"/>
<circle cx="298.05" cy="448.2" r="1.8" fill="#0054a6"/>
<circle cx="302.24" cy="448.6" r="1.8" fill="#0054a6"/>
<circle cx="306.44" cy="486" r="1.8" fill="#0054a6"/>
<circle cx="310.63" cy="460.4" r="1.8" fill="#0054a6"/>
<circle cx="314.83" cy="450.4" r="1.8" fill="#0054a6"/>
<circle cx="319.02" cy="443.6" r="1.8" fill="#0054a6"/>
<circle cx="323.21" cy="465.2" r="1.8" fill="#0054a6"/>
<line x1="197.39" y1="495" x2="197.39" y2="496.4" stroke="#8a8a8a" stroke-width="0.5"/>
<text x="197.39" y="501.3" font-family='"Liberation Sans", sans-serif' font-size="4.8" font-weight="normal" text-anchor="middle" fill="#262626" stroke="#262626" stroke-width="0.16">2</text>
<line x1="205.78" y1="495" x2="205.78" y2="496.4" stroke="#8a8a8a" stroke-width="0.5"/>
<text x="205.78" y="501.3" font-family='"Liberation Sans", sans-serif' font-size="4.8" font-weight="normal" text-anchor="middle" fill="#262626" stroke="#262626" stroke-width="0.16">4</text>
<line x1="214.17" y1="495" x2="214.17" y2="496.4" stroke="#8a8a8a" stroke-width="0.5"/>
<text x="214.17" y="501.3" font-family='"Liberation Sans", sans-serif' font-size="4.8" font-weight="normal" text-anchor="middle" fill="#262626" stroke="#262626" stroke-width="0.16">6</text>
<line x1="222.56" y1="495" x2="222.56" y2="496.4" stroke="#8a8a8a" stroke-width="0.5"/>
<text x="222.56" y="501.3" font-family='"Liberation Sans", sans-serif' font-size="4.8" font-weight="normal" text-anchor="middle" fill="#262626" stroke="#262626" stroke-width="0.16">8</text>
<line x1="230.95" y1="495" x2="230.95" y2="496.4" stroke="#8a8a8a" stroke-width="0.5"/>
<text x="230.95" y="501.3" font-family='"Liberation Sans", sans-serif' font-size="4.8" font-weight="normal" text-anchor="middle" fill="#262626" stroke="#262626" stroke-width="0.16" textLength="4.46" lengthAdjust="spacingAndGlyphs">10</text>
<line x1="239.33" y1="495" x2="239.33" y2="496.4" stroke="#8a8a8a" stroke-width="0.5"/>
<text x="239.33" y="501.3" font-family='"Liberation Sans", sans-serif' font-size="4.8" font-weight="normal" text-anchor="middle" fill="#262626" stroke="#262626" stroke-width="0.16" textLength="4.46" lengthAdjust="spacingAndGlyphs">12</text>
<line x1="247.72" y1="495" x2="247.72" y2="496.4" stroke="#8a8a8a" stroke-width="0.5"/>
<text x="247.72" y="501.3" font-family='"Liberation Sans", sans-serif' font-size="4.8" font-weight="normal" text-anchor="middle" fill="#262626" stroke="#262626" stroke-width="0.16" textLength="4.46" lengthAdjust="spacingAndGlyphs">14</text>
<line x1="256.11" y1="495" x2="256.11" y2="496.4" stroke="#8a8a8a" stroke-width="0.5"/>
<text x="256.11" y="501.3" font-family='"Liberation Sans", sans-serif' font-size="4.8" font-weight="normal" text-anchor="middle" fill="#262626" stroke="#262626" stroke-width="0.16" textLength="4.46" lengthAdjust="spacingAndGlyphs">16</text>
<line x1="264.5" y1="495" x2="264.5" y2="496.4" stroke="#8a8a8a" stroke-width="0.5"/>
<text x="264.5" y="501.3" font-family='"Liberation Sans", sans-serif' font-size="4.8" font-weight="normal" text-anchor="middle" fill="#262626" stroke="#262626" stroke-width="0.16" textLength="4.46" lengthAdjust="spacingAndGlyphs">18</text>
<line x1="272.89" y1="495" x2="272.89" y2="496.4" stroke="#8a8a8a" stroke-width="0.5"/>
<text x="272.89" y="501.3" font-family='"Liberation Sans", sans-serif' font-size="4.8" font-weight="normal" text-anchor="middle" fill="#262626" stroke="#262626" stroke-width="0.16" textLength="4.46" lengthAdjust="spacingAndGlyphs">20</text>
<line x1="281.27" y1="495" x2="281.27" y2="496.4" stroke="#8a8a8a" stroke-width="0.5"/>
<text x="281.27" y="501.3" font-family='"Liberation Sans", sans-serif' font-size="4.8" font-weight="normal" text-anchor="middle" fill="#262626" stroke="#262626" stroke-width="0.16" textLength="4.46" lengthAdjust="spacingAndGlyphs">22</text>
<line x1="289.66" y1="495" x2="289.66" y2="496.4" stroke="#8a8a8a" stroke-width="0.5"/>
<text x="289.66" y="501.3" font-family='"Liberation Sans", sans-serif' font-size="4.8" font-weight="normal" text-anchor="middle" fill="#262626" stroke="#262626" stroke-width="0.16" textLength="4.46" lengthAdjust="spacingAndGlyphs">24</text>
<line x1="298.05" y1="495" x2="298.05" y2="496.4" stroke="#8a8a8a" stroke-width="0.5"/>
<text x="298.05" y="501.3" font-family='"Liberation Sans", sans-serif' font-size="4.8" font-weight="normal" text-anchor="middle" fill="#262626" stroke="#262626" stroke-width="0.16" textLength="4.46" lengthAdjust="spacingAndGlyphs">26</text>
<line x1="306.44" y1="495" x2="306.44" y2="496.4" stroke="#8a8a8a" stroke-width="0.5"/>
<text x="306.44" y="501.3" font-family='"Liberation Sans", sans-serif' font-size="4.8" font-weight="normal" text-anchor="middle" fill="#262626" stroke="#262626" stroke-width="0.16" textLength="4.46" lengthAdjust="spacingAndGlyphs">28</text>
<line x1="314.83" y1="495" x2="314.83" y2="496.4" stroke="#8a8a8a" stroke-width="0.5"/>
<text x="314.83" y="501.3" font-family='"Liberation Sans", sans-serif' font-size="4.8" font-weight="normal" text-anchor="middle" fill="#262626" stroke="#262626" stroke-width="0.16" textLength="4.46" lengthAdjust="spacingAndGlyphs">30</text>
<line x1="323.21" y1="495" x2="323.21" y2="496.4" stroke="#8a8a8a" stroke-width="0.5"/>
<text x="323.21" y="501.3" font-family='"Liberation Sans", sans-serif' font-size="4.8" font-weight="normal" text-anchor="middle" fill="#262626" stroke="#262626" stroke-width="0.16" textLength="4.46" lengthAdjust="spacingAndGlyphs">32</text>
<line x1="189" y1="437.4" x2="190.4" y2="437.4" stroke="#8a8a8a" stroke-width="0.5"/>
<text x="188" y="439.2" font-family='"Liberation Sans", sans-serif' font-size="4.8" font-weight="normal" text-anchor="end" fill="#262626" stroke="#262626" stroke-width="0.16">1</text>
<line x1="189" y1="456" x2="190.4" y2="456" stroke="#8a8a8a" stroke-width="0.5"/>
<text x="188" y="457.8" font-family='"Liberation Sans", sans-serif' font-size="4.8" font-weight="normal" text-anchor="end" fill="#262626" stroke="#262626" stroke-width="0.16">0</text>
<line x1="189" y1="474.8" x2="190.4" y2="474.8" stroke="#8a8a8a" stroke-width="0.5"/>
<text x="188" y="476.6" font-family='"Liberation Sans", sans-serif' font-size="4.8" font-weight="normal" text-anchor="end" fill="#262626" stroke="#262626" stroke-width="0.16" textLength="3.73" lengthAdjust="spacingAndGlyphs">-1</text>
<line x1="189" y1="493.4" x2="190.4" y2="493.4" stroke="#8a8a8a" stroke-width="0.5"/>
<text x="188" y="495.2" font-family='"Liberation Sans", sans-serif' font-size="4.8" font-weight="normal" text-anchor="end" fill="#262626" stroke="#262626" stroke-width="0.16" textLength="3.73" lengthAdjust="spacingAndGlyphs">-2</text>
<text x="258.3" y="422" font-family='"Liberation Sans", sans-serif' font-size="6.9" font-weight="bold" text-anchor="middle" fill="#262626" stroke="#262626" stroke-width="0.14" textLength="37" lengthAdjust="spacingAndGlyphs">Versus Order</text>
<text x="258.3" y="510.4" font-family='"Liberation Sans", sans-serif' font-size="6.0" font-weight="bold" text-anchor="middle" fill="#2a2a2a" stroke="#2a2a2a" stroke-width="0.14" textLength="52" lengthAdjust="spacingAndGlyphs">Observation Order</text>
<text x="178.9" y="460.3" font-family='"Liberation Sans", sans-serif' font-size="6.0" font-weight="bold" text-anchor="middle" fill="#2a2a2a" stroke="#2a2a2a" stroke-width="0.14" transform="rotate(-90 178.9 460.3)" textLength="22.4" lengthAdjust="spacingAndGlyphs">Residual</text>
<rect x="343.7" y="294" width="331.3" height="220.7" fill="#e6e6e6" stroke="#dddddd" stroke-width="0.5"/>
<text x="509.4" y="308.7" font-family='"Liberation Sans", sans-serif' font-size="8.5" font-weight="normal" text-anchor="middle" fill="#222" stroke="#222" stroke-width="0.42" textLength="87.8" lengthAdjust="spacingAndGlyphs">Residual Plots for MRR</text>
<rect x="367.6" y="325.6" width="135.4" height="66.2" fill="#fff" stroke="#b4b4b4" stroke-width="0.6"/>
<line x1="382.6" y1="325.6" x2="382.6" y2="391.8" stroke="#d0d0d0" stroke-width="0.6" stroke-dasharray="1.6 1.6"/>
<line x1="399.45" y1="325.6" x2="399.45" y2="391.8" stroke="#d0d0d0" stroke-width="0.6" stroke-dasharray="1.6 1.6"/>
<line x1="416.3" y1="325.6" x2="416.3" y2="391.8" stroke="#d0d0d0" stroke-width="0.6" stroke-dasharray="1.6 1.6"/>
<line x1="433.15" y1="325.6" x2="433.15" y2="391.8" stroke="#d0d0d0" stroke-width="0.6" stroke-dasharray="1.6 1.6"/>
<line x1="450" y1="325.6" x2="450" y2="391.8" stroke="#d0d0d0" stroke-width="0.6" stroke-dasharray="1.6 1.6"/>
<line x1="466.85" y1="325.6" x2="466.85" y2="391.8" stroke="#d0d0d0" stroke-width="0.6" stroke-dasharray="1.6 1.6"/>
<line x1="483.7" y1="325.6" x2="483.7" y2="391.8" stroke="#d0d0d0" stroke-width="0.6" stroke-dasharray="1.6 1.6"/>
<line x1="500.55" y1="325.6" x2="500.55" y2="391.8" stroke="#d0d0d0" stroke-width="0.6" stroke-dasharray="1.6 1.6"/>
<line x1="367.6" y1="340.47" x2="503" y2="340.47" stroke="#d0d0d0" stroke-width="0.6" stroke-dasharray="1.6 1.6"/>
<line x1="367.6" y1="358.7" x2="503" y2="358.7" stroke="#d0d0d0" stroke-width="0.6" stroke-dasharray="1.6 1.6"/>
<line x1="367.6" y1="376.93" x2="503" y2="376.93" stroke="#d0d0d0" stroke-width="0.6" stroke-dasharray="1.6 1.6"/>
<line x1="405" y1="391.8" x2="495" y2="325.6" stroke="#9c3a36" stroke-width="0.7"/>
<circle cx="374.48" cy="387.47" r="1.8" fill="#0054a6"/>
<circle cx="411.54" cy="381.77" r="1.8" fill="#0054a6"/>
<circle cx="431.65" cy="378.38" r="1.8" fill="#0054a6"/>
<circle cx="434.47" cy="375.84" r="1.8" fill="#0054a6"/>
<circle cx="434.47" cy="373.75" r="1.8" fill="#0054a6"/>
<circle cx="435.88" cy="371.95" r="1.8" fill="#0054a6"/>
<circle cx="443.3" cy="370.33" r="1.8" fill="#0054a6"/>
<circle cx="444.71" cy="368.86" r="1.8" fill="#0054a6"/>
<circle cx="445.06" cy="367.48" r="1.8" fill="#0054a6"/>
<circle cx="445.06" cy="366.19" r="1.8" fill="#0054a6"/>
<circle cx="446.82" cy="364.95" r="1.8" fill="#0054a6"/>
<circle cx="449.29" cy="363.76" r="1.8" fill="#0054a6"/>
<circle cx="449.65" cy="362.6" r="1.8" fill="#0054a6"/>
<circle cx="450" cy="361.47" r="1.8" fill="#0054a6"/>
<circle cx="450.71" cy="360.35" r="1.8" fill="#0054a6"/>
<circle cx="451.06" cy="359.25" r="1.8" fill="#0054a6"/>
<circle cx="451.41" cy="358.15" r="1.8" fill="#0054a6"/>
<circle cx="451.41" cy="357.05" r="1.8" fill="#0054a6"/>
<circle cx="452.12" cy="355.93" r="1.8" fill="#0054a6"/>
<circle cx="454.59" cy="354.8" r="1.8" fill="#0054a6"/>
<circle cx="458.82" cy="353.64" r="1.8" fill="#0054a6"/>
<circle cx="458.82" cy="352.45" r="1.8" fill="#0054a6"/>
<circle cx="458.82" cy="351.21" r="1.8" fill="#0054a6"/>
<circle cx="461.65" cy="349.92" r="1.8" fill="#0054a6"/>
<circle cx="462.7" cy="348.54" r="1.8" fill="#0054a6"/>
<circle cx="462.7" cy="347.07" r="1.8" fill="#0054a6"/>
<circle cx="463.41" cy="345.45" r="1.8" fill="#0054a6"/>
<circle cx="464.47" cy="343.65" r="1.8" fill="#0054a6"/>
<circle cx="465.17" cy="341.56" r="1.8" fill="#0054a6"/>
<circle cx="471.53" cy="339.02" r="1.8" fill="#0054a6"/>
<circle cx="473.29" cy="335.63" r="1.8" fill="#0054a6"/>
<circle cx="479.64" cy="329.93" r="1.8" fill="#0054a6"/>
<line x1="382.6" y1="391.8" x2="382.6" y2="393.2" stroke="#8a8a8a" stroke-width="0.5"/>
<text x="382.6" y="398.1" font-family='"Liberation Sans", sans-serif' font-size="4.8" font-weight="normal" text-anchor="middle" fill="#262626" stroke="#262626" stroke-width="0.16" textLength="7.4" lengthAdjust="spacingAndGlyphs">-1.0</text>
<line x1="416.3" y1="391.8" x2="416.3" y2="393.2" stroke="#8a8a8a" stroke-width="0.5"/>
<text x="416.3" y="398.1" font-family='"Liberation Sans", sans-serif' font-size="4.8" font-weight="normal" text-anchor="middle" fill="#262626" stroke="#262626" stroke-width="0.16" textLength="7.4" lengthAdjust="spacingAndGlyphs">-0.5</text>
<line x1="450" y1="391.8" x2="450" y2="393.2" stroke="#8a8a8a" stroke-width="0.5"/>
<text x="450" y="398.1" font-family='"Liberation Sans", sans-serif' font-size="4.8" font-weight="normal" text-anchor="middle" fill="#262626" stroke="#262626" stroke-width="0.16" textLength="5.97" lengthAdjust="spacingAndGlyphs">0.0</text>
<line x1="483.7" y1="391.8" x2="483.7" y2="393.2" stroke="#8a8a8a" stroke-width="0.5"/>
<text x="483.7" y="398.1" font-family='"Liberation Sans", sans-serif' font-size="4.8" font-weight="normal" text-anchor="middle" fill="#262626" stroke="#262626" stroke-width="0.16" textLength="5.97" lengthAdjust="spacingAndGlyphs">0.5</text>
<line x1="366.2" y1="325.6" x2="367.6" y2="325.6" stroke="#8a8a8a" stroke-width="0.5"/>
<text x="365.2" y="327.4" font-family='"Liberation Sans", sans-serif' font-size="4.8" font-weight="normal" text-anchor="end" fill="#262626" stroke="#262626" stroke-width="0.16" textLength="4.67" lengthAdjust="spacingAndGlyphs">99</text>
<line x1="366.2" y1="340.47" x2="367.6" y2="340.47" stroke="#8a8a8a" stroke-width="0.5"/>
<text x="365.2" y="342.27" font-family='"Liberation Sans", sans-serif' font-size="4.8" font-weight="normal" text-anchor="end" fill="#262626" stroke="#262626" stroke-width="0.16" textLength="4.67" lengthAdjust="spacingAndGlyphs">90</text>
<line x1="366.2" y1="358.7" x2="367.6" y2="358.7" stroke="#8a8a8a" stroke-width="0.5"/>
<text x="365.2" y="360.5" font-family='"Liberation Sans", sans-serif' font-size="4.8" font-weight="normal" text-anchor="end" fill="#262626" stroke="#262626" stroke-width="0.16" textLength="4.67" lengthAdjust="spacingAndGlyphs">50</text>
<line x1="366.2" y1="376.93" x2="367.6" y2="376.93" stroke="#8a8a8a" stroke-width="0.5"/>
<text x="365.2" y="378.73" font-family='"Liberation Sans", sans-serif' font-size="4.8" font-weight="normal" text-anchor="end" fill="#262626" stroke="#262626" stroke-width="0.16" textLength="4.67" lengthAdjust="spacingAndGlyphs">10</text>
<line x1="366.2" y1="391.8" x2="367.6" y2="391.8" stroke="#8a8a8a" stroke-width="0.5"/>
<text x="365.2" y="393.6" font-family='"Liberation Sans", sans-serif' font-size="4.8" font-weight="normal" text-anchor="end" fill="#262626" stroke="#262626" stroke-width="0.16">1</text>
<text x="435.3" y="319.3" font-family='"Liberation Sans", sans-serif' font-size="6.9" font-weight="bold" text-anchor="middle" fill="#262626" stroke="#262626" stroke-width="0.14" textLength="68" lengthAdjust="spacingAndGlyphs">Normal Probability Plot</text>
<text x="435.3" y="407.2" font-family='"Liberation Sans", sans-serif' font-size="6.0" font-weight="bold" text-anchor="middle" fill="#2a2a2a" stroke="#2a2a2a" stroke-width="0.14" textLength="22.4" lengthAdjust="spacingAndGlyphs">Residual</text>
<text x="354.9" y="358.7" font-family='"Liberation Sans", sans-serif' font-size="6.0" font-weight="bold" text-anchor="middle" fill="#2a2a2a" stroke="#2a2a2a" stroke-width="0.14" transform="rotate(-90 354.9 358.7)" textLength="21" lengthAdjust="spacingAndGlyphs">Percent</text>
<rect x="535.6" y="325.6" width="132.6" height="66.2" fill="#fff" stroke="#b4b4b4" stroke-width="0.6"/>
<line x1="535.6" y1="346" x2="668.2" y2="346" stroke="#d2d2d2" stroke-width="1.3" stroke-dasharray="2 1.8"/>
<circle cx="542.8" cy="339.2" r="1.8" fill="#0054a6"/>
<circle cx="544.2" cy="334.2" r="1.8" fill="#0054a6"/>
<circle cx="543.6" cy="353.4" r="1.8" fill="#0054a6"/>
<circle cx="547.8" cy="344.6" r="1.8" fill="#0054a6"/>
<circle cx="550.4" cy="346.4" r="1.8" fill="#0054a6"/>
<circle cx="550.6" cy="347.6" r="1.8" fill="#0054a6"/>
<circle cx="552.6" cy="356.2" r="1.8" fill="#0054a6"/>
<circle cx="556.2" cy="348.6" r="1.8" fill="#0054a6"/>
<circle cx="558" cy="338.8" r="1.8" fill="#0054a6"/>
<circle cx="558.4" cy="345.6" r="1.8" fill="#0054a6"/>
<circle cx="561" cy="343.6" r="1.8" fill="#0054a6"/>
<circle cx="561.6" cy="346" r="1.8" fill="#0054a6"/>
<circle cx="560.6" cy="348.8" r="1.8" fill="#0054a6"/>
<circle cx="565" cy="337.8" r="1.8" fill="#0054a6"/>
<circle cx="570.6" cy="337.8" r="1.8" fill="#0054a6"/>
<circle cx="566.2" cy="367.6" r="1.8" fill="#0054a6"/>
<circle cx="589" cy="346.4" r="1.8" fill="#0054a6"/>
<circle cx="591" cy="345.2" r="1.8" fill="#0054a6"/>
<circle cx="590.6" cy="333.2" r="1.8" fill="#0054a6"/>
<circle cx="595.6" cy="329.4" r="1.8" fill="#0054a6"/>
<circle cx="596.2" cy="341" r="1.8" fill="#0054a6"/>
<circle cx="602.6" cy="341" r="1.8" fill="#0054a6"/>
<circle cx="602.2" cy="349.8" r="1.8" fill="#0054a6"/>
<circle cx="592.4" cy="387.8" r="1.8" fill="#0054a6"/>
<circle cx="635.4" cy="341" r="1.8" fill="#0054a6"/>
<circle cx="638.4" cy="354.2" r="1.8" fill="#0054a6"/>
<circle cx="641.2" cy="346.4" r="1.8" fill="#0054a6"/>
<circle cx="644.4" cy="345.2" r="1.8" fill="#0054a6"/>
<circle cx="644.6" cy="348.6" r="1.8" fill="#0054a6"/>
<circle cx="649.6" cy="339.2" r="1.8" fill="#0054a6"/>
<circle cx="652.2" cy="354.2" r="1.8" fill="#0054a6"/>
<circle cx="657.4" cy="339" r="1.8" fill="#0054a6"/>
<line x1="552.5" y1="391.8" x2="552.5" y2="393.2" stroke="#8a8a8a" stroke-width="0.5"/>
<text x="552.5" y="398.1" font-family='"Liberation Sans", sans-serif' font-size="4.8" font-weight="normal" text-anchor="middle" fill="#262626" stroke="#262626" stroke-width="0.16">1</text>
<line x1="580.75" y1="391.8" x2="580.75" y2="393.2" stroke="#8a8a8a" stroke-width="0.5"/>
<text x="580.75" y="398.1" font-family='"Liberation Sans", sans-serif' font-size="4.8" font-weight="normal" text-anchor="middle" fill="#262626" stroke="#262626" stroke-width="0.16">2</text>
<line x1="609" y1="391.8" x2="609" y2="393.2" stroke="#8a8a8a" stroke-width="0.5"/>
<text x="609" y="398.1" font-family='"Liberation Sans", sans-serif' font-size="4.8" font-weight="normal" text-anchor="middle" fill="#262626" stroke="#262626" stroke-width="0.16">3</text>
<line x1="637.25" y1="391.8" x2="637.25" y2="393.2" stroke="#8a8a8a" stroke-width="0.5"/>
<text x="637.25" y="398.1" font-family='"Liberation Sans", sans-serif' font-size="4.8" font-weight="normal" text-anchor="middle" fill="#262626" stroke="#262626" stroke-width="0.16">4</text>
<line x1="665.5" y1="391.8" x2="665.5" y2="393.2" stroke="#8a8a8a" stroke-width="0.5"/>
<text x="665.5" y="398.1" font-family='"Liberation Sans", sans-serif' font-size="4.8" font-weight="normal" text-anchor="middle" fill="#262626" stroke="#262626" stroke-width="0.16">5</text>
<line x1="534.2" y1="327.4" x2="535.6" y2="327.4" stroke="#8a8a8a" stroke-width="0.5"/>
<text x="533.2" y="329.2" font-family='"Liberation Sans", sans-serif' font-size="4.8" font-weight="normal" text-anchor="end" fill="#262626" stroke="#262626" stroke-width="0.16" textLength="5.97" lengthAdjust="spacingAndGlyphs">0.5</text>
<line x1="534.2" y1="346" x2="535.6" y2="346" stroke="#8a8a8a" stroke-width="0.5"/>
<text x="533.2" y="347.8" font-family='"Liberation Sans", sans-serif' font-size="4.8" font-weight="normal" text-anchor="end" fill="#262626" stroke="#262626" stroke-width="0.16" textLength="5.97" lengthAdjust="spacingAndGlyphs">0.0</text>
<line x1="534.2" y1="364.6" x2="535.6" y2="364.6" stroke="#8a8a8a" stroke-width="0.5"/>
<text x="533.2" y="366.4" font-family='"Liberation Sans", sans-serif' font-size="4.8" font-weight="normal" text-anchor="end" fill="#262626" stroke="#262626" stroke-width="0.16" textLength="7.4" lengthAdjust="spacingAndGlyphs">-0.5</text>
<line x1="534.2" y1="383.4" x2="535.6" y2="383.4" stroke="#8a8a8a" stroke-width="0.5"/>
<text x="533.2" y="385.2" font-family='"Liberation Sans", sans-serif' font-size="4.8" font-weight="normal" text-anchor="end" fill="#262626" stroke="#262626" stroke-width="0.16" textLength="7.4" lengthAdjust="spacingAndGlyphs">-1.0</text>
<text x="601.9" y="319.3" font-family='"Liberation Sans", sans-serif' font-size="6.9" font-weight="bold" text-anchor="middle" fill="#262626" stroke="#262626" stroke-width="0.14" textLength="30.8" lengthAdjust="spacingAndGlyphs">Versus Fits</text>
<text x="601.9" y="407.2" font-family='"Liberation Sans", sans-serif' font-size="6.0" font-weight="bold" text-anchor="middle" fill="#2a2a2a" stroke="#2a2a2a" stroke-width="0.14" textLength="33" lengthAdjust="spacingAndGlyphs">Fitted Value</text>
<text x="520.9" y="358.7" font-family='"Liberation Sans", sans-serif' font-size="6.0" font-weight="bold" text-anchor="middle" fill="#2a2a2a" stroke="#2a2a2a" stroke-width="0.14" transform="rotate(-90 520.9 358.7)" textLength="22.4" lengthAdjust="spacingAndGlyphs">Residual</text>
<rect x="367.4" y="427.2" width="135.4" height="67.6" fill="#fff" stroke="#b4b4b4" stroke-width="0.6"/>
<rect x="372" y="490.66" width="13.93" height="4.14" fill="#7ba7d9" stroke="#46648a" stroke-width="0.45"/>
<rect x="413.79" y="490.66" width="13.93" height="4.14" fill="#7ba7d9" stroke="#46648a" stroke-width="0.45"/>
<rect x="441.65" y="478.23" width="13.93" height="16.57" fill="#7ba7d9" stroke="#46648a" stroke-width="0.45"/>
<rect x="455.58" y="436.8" width="13.93" height="58" fill="#7ba7d9" stroke="#46648a" stroke-width="0.45"/>
<rect x="469.51" y="457.51" width="13.93" height="37.29" fill="#7ba7d9" stroke="#46648a" stroke-width="0.45"/>
<rect x="483.44" y="482.37" width="13.93" height="12.43" fill="#7ba7d9" stroke="#46648a" stroke-width="0.45"/>
<line x1="379" y1="494.8" x2="379" y2="496.2" stroke="#8a8a8a" stroke-width="0.5"/>
<text x="379" y="501.1" font-family='"Liberation Sans", sans-serif' font-size="4.8" font-weight="normal" text-anchor="middle" fill="#262626" stroke="#262626" stroke-width="0.16" textLength="7.4" lengthAdjust="spacingAndGlyphs">-1.2</text>
<line x1="406.85" y1="494.8" x2="406.85" y2="496.2" stroke="#8a8a8a" stroke-width="0.5"/>
<text x="406.85" y="501.1" font-family='"Liberation Sans", sans-serif' font-size="4.8" font-weight="normal" text-anchor="middle" fill="#262626" stroke="#262626" stroke-width="0.16" textLength="7.4" lengthAdjust="spacingAndGlyphs">-0.8</text>
<line x1="434.7" y1="494.8" x2="434.7" y2="496.2" stroke="#8a8a8a" stroke-width="0.5"/>
<text x="434.7" y="501.1" font-family='"Liberation Sans", sans-serif' font-size="4.8" font-weight="normal" text-anchor="middle" fill="#262626" stroke="#262626" stroke-width="0.16" textLength="7.4" lengthAdjust="spacingAndGlyphs">-0.4</text>
<line x1="462.55" y1="494.8" x2="462.55" y2="496.2" stroke="#8a8a8a" stroke-width="0.5"/>
<text x="462.55" y="501.1" font-family='"Liberation Sans", sans-serif' font-size="4.8" font-weight="normal" text-anchor="middle" fill="#262626" stroke="#262626" stroke-width="0.16" textLength="5.97" lengthAdjust="spacingAndGlyphs">0.0</text>
<line x1="490.4" y1="494.8" x2="490.4" y2="496.2" stroke="#8a8a8a" stroke-width="0.5"/>
<text x="490.4" y="501.1" font-family='"Liberation Sans", sans-serif' font-size="4.8" font-weight="normal" text-anchor="middle" fill="#262626" stroke="#262626" stroke-width="0.16" textLength="5.97" lengthAdjust="spacingAndGlyphs">0.4</text>
<line x1="366" y1="428.4" x2="367.4" y2="428.4" stroke="#8a8a8a" stroke-width="0.5"/>
<text x="365" y="430.2" font-family='"Liberation Sans", sans-serif' font-size="4.8" font-weight="normal" text-anchor="end" fill="#262626" stroke="#262626" stroke-width="0.16" textLength="4.67" lengthAdjust="spacingAndGlyphs">16</text>
<line x1="366" y1="445" x2="367.4" y2="445" stroke="#8a8a8a" stroke-width="0.5"/>
<text x="365" y="446.8" font-family='"Liberation Sans", sans-serif' font-size="4.8" font-weight="normal" text-anchor="end" fill="#262626" stroke="#262626" stroke-width="0.16" textLength="4.67" lengthAdjust="spacingAndGlyphs">12</text>
<line x1="366" y1="461.6" x2="367.4" y2="461.6" stroke="#8a8a8a" stroke-width="0.5"/>
<text x="365" y="463.4" font-family='"Liberation Sans", sans-serif' font-size="4.8" font-weight="normal" text-anchor="end" fill="#262626" stroke="#262626" stroke-width="0.16">8</text>
<line x1="366" y1="478.2" x2="367.4" y2="478.2" stroke="#8a8a8a" stroke-width="0.5"/>
<text x="365" y="480" font-family='"Liberation Sans", sans-serif' font-size="4.8" font-weight="normal" text-anchor="end" fill="#262626" stroke="#262626" stroke-width="0.16">4</text>
<line x1="366" y1="494.8" x2="367.4" y2="494.8" stroke="#8a8a8a" stroke-width="0.5"/>
<text x="365" y="496.6" font-family='"Liberation Sans", sans-serif' font-size="4.8" font-weight="normal" text-anchor="end" fill="#262626" stroke="#262626" stroke-width="0.16">0</text>
<text x="435.1" y="422.1" font-family='"Liberation Sans", sans-serif' font-size="6.9" font-weight="bold" text-anchor="middle" fill="#262626" stroke="#262626" stroke-width="0.14" textLength="29.6" lengthAdjust="spacingAndGlyphs">Histogram</text>
<text x="435.1" y="510.2" font-family='"Liberation Sans", sans-serif' font-size="6.0" font-weight="bold" text-anchor="middle" fill="#2a2a2a" stroke="#2a2a2a" stroke-width="0.14" textLength="22.4" lengthAdjust="spacingAndGlyphs">Residual</text>
<text x="356.1" y="461" font-family='"Liberation Sans", sans-serif' font-size="6.0" font-weight="bold" text-anchor="middle" fill="#2a2a2a" stroke="#2a2a2a" stroke-width="0.14" transform="rotate(-90 356.1 461)" textLength="28.5" lengthAdjust="spacingAndGlyphs">Frequency</text>
<rect x="535.6" y="427.2" width="132.6" height="67.6" fill="#fff" stroke="#b4b4b4" stroke-width="0.6"/>
<line x1="535.6" y1="448.2" x2="668.2" y2="448.2" stroke="#d2d2d2" stroke-width="1.3" stroke-dasharray="2 1.8"/>
<polyline fill="none" stroke="#2a72b6" stroke-width="0.58" points="538.3,451.2 542.38,439.6 546.46,452 550.54,457 554.62,458.6 558.7,440 562.78,431.4 566.86,451 570.94,448.4 575.02,447.4 579.1,447.4 583.18,457 587.26,450 591.34,451 595.42,448.6 599.5,443.2 603.58,447 607.66,470 611.74,443.2 615.82,440.6 619.9,436 623.98,445.6 628.06,443.2 632.14,441 636.22,441.6 640.3,447.8 644.38,491 648.46,447.6 652.54,456.2 656.62,441 660.7,435 664.78,448.2"/>
<circle cx="538.3" cy="451.2" r="1.8" fill="#0054a6"/>
<circle cx="542.38" cy="439.6" r="1.8" fill="#0054a6"/>
<circle cx="546.46" cy="452" r="1.8" fill="#0054a6"/>
<circle cx="550.54" cy="457" r="1.8" fill="#0054a6"/>
<circle cx="554.62" cy="458.6" r="1.8" fill="#0054a6"/>
<circle cx="558.7" cy="440" r="1.8" fill="#0054a6"/>
<circle cx="562.78" cy="431.4" r="1.8" fill="#0054a6"/>
<circle cx="566.86" cy="451" r="1.8" fill="#0054a6"/>
<circle cx="570.94" cy="448.4" r="1.8" fill="#0054a6"/>
<circle cx="575.02" cy="447.4" r="1.8" fill="#0054a6"/>
<circle cx="579.1" cy="447.4" r="1.8" fill="#0054a6"/>
<circle cx="583.18" cy="457" r="1.8" fill="#0054a6"/>
<circle cx="587.26" cy="450" r="1.8" fill="#0054a6"/>
<circle cx="591.34" cy="451" r="1.8" fill="#0054a6"/>
<circle cx="595.42" cy="448.6" r="1.8" fill="#0054a6"/>
<circle cx="599.5" cy="443.2" r="1.8" fill="#0054a6"/>
<circle cx="603.58" cy="447" r="1.8" fill="#0054a6"/>
<circle cx="607.66" cy="470" r="1.8" fill="#0054a6"/>
<circle cx="611.74" cy="443.2" r="1.8" fill="#0054a6"/>
<circle cx="615.82" cy="440.6" r="1.8" fill="#0054a6"/>
<circle cx="619.9" cy="436" r="1.8" fill="#0054a6"/>
<circle cx="623.98" cy="445.6" r="1.8" fill="#0054a6"/>
<circle cx="628.06" cy="443.2" r="1.8" fill="#0054a6"/>
<circle cx="632.14" cy="441" r="1.8" fill="#0054a6"/>
<circle cx="636.22" cy="441.6" r="1.8" fill="#0054a6"/>
<circle cx="640.3" cy="447.8" r="1.8" fill="#0054a6"/>
<circle cx="644.38" cy="491" r="1.8" fill="#0054a6"/>
<circle cx="648.46" cy="447.6" r="1.8" fill="#0054a6"/>
<circle cx="652.54" cy="456.2" r="1.8" fill="#0054a6"/>
<circle cx="656.62" cy="441" r="1.8" fill="#0054a6"/>
<circle cx="660.7" cy="435" r="1.8" fill="#0054a6"/>
<circle cx="664.78" cy="448.2" r="1.8" fill="#0054a6"/>
<line x1="542.38" y1="494.8" x2="542.38" y2="496.2" stroke="#8a8a8a" stroke-width="0.5"/>
<text x="542.38" y="501.1" font-family='"Liberation Sans", sans-serif' font-size="4.8" font-weight="normal" text-anchor="middle" fill="#262626" stroke="#262626" stroke-width="0.16">2</text>
<line x1="550.54" y1="494.8" x2="550.54" y2="496.2" stroke="#8a8a8a" stroke-width="0.5"/>
<text x="550.54" y="501.1" font-family='"Liberation Sans", sans-serif' font-size="4.8" font-weight="normal" text-anchor="middle" fill="#262626" stroke="#262626" stroke-width="0.16">4</text>
<line x1="558.7" y1="494.8" x2="558.7" y2="496.2" stroke="#8a8a8a" stroke-width="0.5"/>
<text x="558.7" y="501.1" font-family='"Liberation Sans", sans-serif' font-size="4.8" font-weight="normal" text-anchor="middle" fill="#262626" stroke="#262626" stroke-width="0.16">6</text>
<line x1="566.86" y1="494.8" x2="566.86" y2="496.2" stroke="#8a8a8a" stroke-width="0.5"/>
<text x="566.86" y="501.1" font-family='"Liberation Sans", sans-serif' font-size="4.8" font-weight="normal" text-anchor="middle" fill="#262626" stroke="#262626" stroke-width="0.16">8</text>
<line x1="575.02" y1="494.8" x2="575.02" y2="496.2" stroke="#8a8a8a" stroke-width="0.5"/>
<text x="575.02" y="501.1" font-family='"Liberation Sans", sans-serif' font-size="4.8" font-weight="normal" text-anchor="middle" fill="#262626" stroke="#262626" stroke-width="0.16" textLength="4.46" lengthAdjust="spacingAndGlyphs">10</text>
<line x1="583.18" y1="494.8" x2="583.18" y2="496.2" stroke="#8a8a8a" stroke-width="0.5"/>
<text x="583.18" y="501.1" font-family='"Liberation Sans", sans-serif' font-size="4.8" font-weight="normal" text-anchor="middle" fill="#262626" stroke="#262626" stroke-width="0.16" textLength="4.46" lengthAdjust="spacingAndGlyphs">12</text>
<line x1="591.34" y1="494.8" x2="591.34" y2="496.2" stroke="#8a8a8a" stroke-width="0.5"/>
<text x="591.34" y="501.1" font-family='"Liberation Sans", sans-serif' font-size="4.8" font-weight="normal" text-anchor="middle" fill="#262626" stroke="#262626" stroke-width="0.16" textLength="4.46" lengthAdjust="spacingAndGlyphs">14</text>
<line x1="599.5" y1="494.8" x2="599.5" y2="496.2" stroke="#8a8a8a" stroke-width="0.5"/>
<text x="599.5" y="501.1" font-family='"Liberation Sans", sans-serif' font-size="4.8" font-weight="normal" text-anchor="middle" fill="#262626" stroke="#262626" stroke-width="0.16" textLength="4.46" lengthAdjust="spacingAndGlyphs">16</text>
<line x1="607.66" y1="494.8" x2="607.66" y2="496.2" stroke="#8a8a8a" stroke-width="0.5"/>
<text x="607.66" y="501.1" font-family='"Liberation Sans", sans-serif' font-size="4.8" font-weight="normal" text-anchor="middle" fill="#262626" stroke="#262626" stroke-width="0.16" textLength="4.46" lengthAdjust="spacingAndGlyphs">18</text>
<line x1="615.82" y1="494.8" x2="615.82" y2="496.2" stroke="#8a8a8a" stroke-width="0.5"/>
<text x="615.82" y="501.1" font-family='"Liberation Sans", sans-serif' font-size="4.8" font-weight="normal" text-anchor="middle" fill="#262626" stroke="#262626" stroke-width="0.16" textLength="4.46" lengthAdjust="spacingAndGlyphs">20</text>
<line x1="623.98" y1="494.8" x2="623.98" y2="496.2" stroke="#8a8a8a" stroke-width="0.5"/>
<text x="623.98" y="501.1" font-family='"Liberation Sans", sans-serif' font-size="4.8" font-weight="normal" text-anchor="middle" fill="#262626" stroke="#262626" stroke-width="0.16" textLength="4.46" lengthAdjust="spacingAndGlyphs">22</text>
<line x1="632.14" y1="494.8" x2="632.14" y2="496.2" stroke="#8a8a8a" stroke-width="0.5"/>
<text x="632.14" y="501.1" font-family='"Liberation Sans", sans-serif' font-size="4.8" font-weight="normal" text-anchor="middle" fill="#262626" stroke="#262626" stroke-width="0.16" textLength="4.46" lengthAdjust="spacingAndGlyphs">24</text>
<line x1="640.3" y1="494.8" x2="640.3" y2="496.2" stroke="#8a8a8a" stroke-width="0.5"/>
<text x="640.3" y="501.1" font-family='"Liberation Sans", sans-serif' font-size="4.8" font-weight="normal" text-anchor="middle" fill="#262626" stroke="#262626" stroke-width="0.16" textLength="4.46" lengthAdjust="spacingAndGlyphs">26</text>
<line x1="648.46" y1="494.8" x2="648.46" y2="496.2" stroke="#8a8a8a" stroke-width="0.5"/>
<text x="648.46" y="501.1" font-family='"Liberation Sans", sans-serif' font-size="4.8" font-weight="normal" text-anchor="middle" fill="#262626" stroke="#262626" stroke-width="0.16" textLength="4.46" lengthAdjust="spacingAndGlyphs">28</text>
<line x1="656.62" y1="494.8" x2="656.62" y2="496.2" stroke="#8a8a8a" stroke-width="0.5"/>
<text x="656.62" y="501.1" font-family='"Liberation Sans", sans-serif' font-size="4.8" font-weight="normal" text-anchor="middle" fill="#262626" stroke="#262626" stroke-width="0.16" textLength="4.46" lengthAdjust="spacingAndGlyphs">30</text>
<line x1="664.78" y1="494.8" x2="664.78" y2="496.2" stroke="#8a8a8a" stroke-width="0.5"/>
<text x="664.78" y="501.1" font-family='"Liberation Sans", sans-serif' font-size="4.8" font-weight="normal" text-anchor="middle" fill="#262626" stroke="#262626" stroke-width="0.16" textLength="4.46" lengthAdjust="spacingAndGlyphs">32</text>
<line x1="534.2" y1="429" x2="535.6" y2="429" stroke="#8a8a8a" stroke-width="0.5"/>
<text x="533.2" y="430.8" font-family='"Liberation Sans", sans-serif' font-size="4.8" font-weight="normal" text-anchor="end" fill="#262626" stroke="#262626" stroke-width="0.16" textLength="5.97" lengthAdjust="spacingAndGlyphs">0.5</text>
<line x1="534.2" y1="448.2" x2="535.6" y2="448.2" stroke="#8a8a8a" stroke-width="0.5"/>
<text x="533.2" y="450" font-family='"Liberation Sans", sans-serif' font-size="4.8" font-weight="normal" text-anchor="end" fill="#262626" stroke="#262626" stroke-width="0.16" textLength="5.97" lengthAdjust="spacingAndGlyphs">0.0</text>
<line x1="534.2" y1="467.2" x2="535.6" y2="467.2" stroke="#8a8a8a" stroke-width="0.5"/>
<text x="533.2" y="469" font-family='"Liberation Sans", sans-serif' font-size="4.8" font-weight="normal" text-anchor="end" fill="#262626" stroke="#262626" stroke-width="0.16" textLength="7.4" lengthAdjust="spacingAndGlyphs">-0.5</text>
<line x1="534.2" y1="486.4" x2="535.6" y2="486.4" stroke="#8a8a8a" stroke-width="0.5"/>
<text x="533.2" y="488.2" font-family='"Liberation Sans", sans-serif' font-size="4.8" font-weight="normal" text-anchor="end" fill="#262626" stroke="#262626" stroke-width="0.16" textLength="7.4" lengthAdjust="spacingAndGlyphs">-1.0</text>
<text x="601.9" y="422.1" font-family='"Liberation Sans", sans-serif' font-size="6.9" font-weight="bold" text-anchor="middle" fill="#262626" stroke="#262626" stroke-width="0.14" textLength="37" lengthAdjust="spacingAndGlyphs">Versus Order</text>
<text x="601.9" y="510.2" font-family='"Liberation Sans", sans-serif' font-size="6.0" font-weight="bold" text-anchor="middle" fill="#2a2a2a" stroke="#2a2a2a" stroke-width="0.14" textLength="52" lengthAdjust="spacingAndGlyphs">Observation Order</text>
<text x="520.9" y="461" font-family='"Liberation Sans", sans-serif' font-size="6.0" font-weight="bold" text-anchor="middle" fill="#2a2a2a" stroke="#2a2a2a" stroke-width="0.14" transform="rotate(-90 520.9 461)" textLength="22.4" lengthAdjust="spacingAndGlyphs">Residual</text>
<text x="183.6" y="266.8" font-family='"Liberation Serif", serif' font-size="19.5" font-weight="normal" text-anchor="middle" fill="#111">(a)</text>
<text x="521.3" y="266.8" font-family='"Liberation Serif", serif' font-size="19.5" font-weight="normal" text-anchor="middle" fill="#111">(b)</text>
<text x="178.9" y="557" font-family='"Liberation Serif", serif' font-size="19.5" font-weight="normal" text-anchor="middle" fill="#111">(c)</text>
<text x="518.7" y="557" font-family='"Liberation Serif", serif' font-size="19.5" font-weight="normal" text-anchor="middle" fill="#111">(d)</text>
</svg></body></html>
